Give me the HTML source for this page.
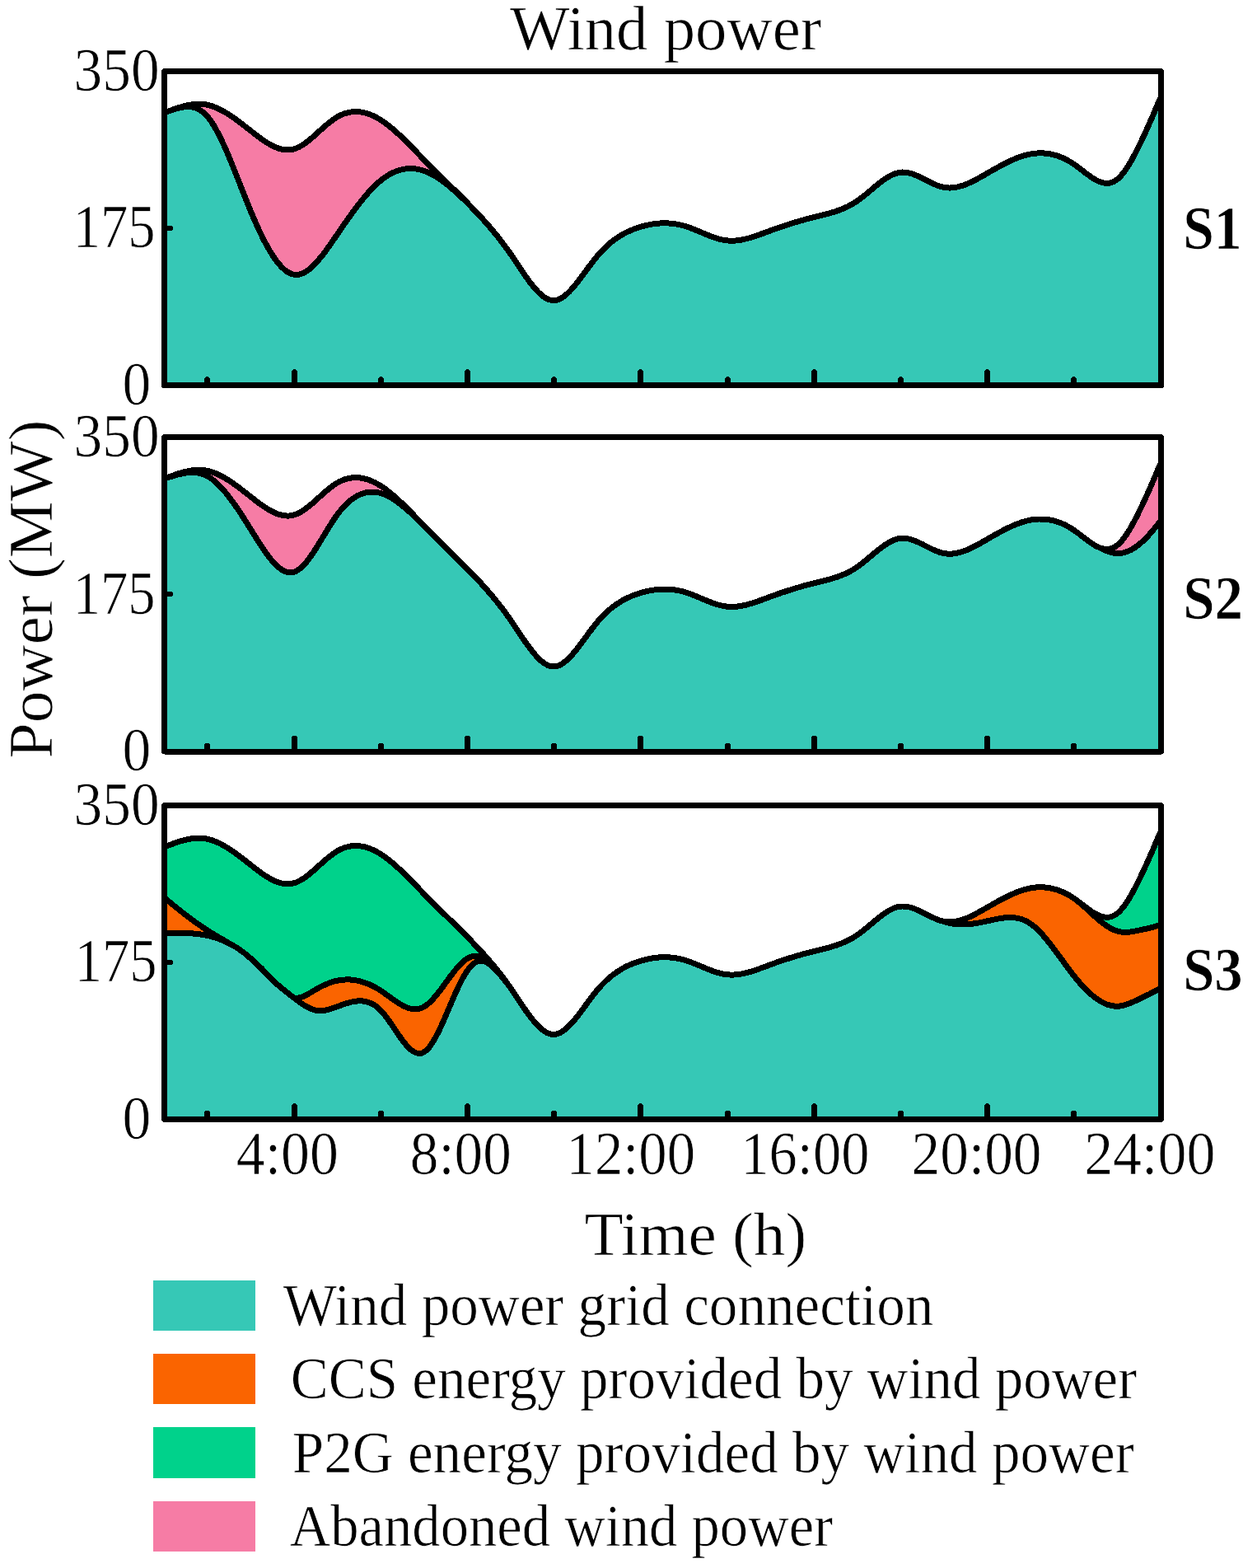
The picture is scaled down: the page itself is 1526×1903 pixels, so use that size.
<!DOCTYPE html>
<html lang="en"><head><meta charset="utf-8"><title>Wind power</title>
<style>
html,body{margin:0;padding:0;background:#fff;}
body{width:1526px;height:1903px;overflow:hidden;font-family:"Liberation Serif",serif;}
svg{display:block;}
</style></head><body>
<svg width="1526" height="1903" viewBox="0 0 1526 1903" font-family="'Liberation Serif', serif" fill="#000">
<style>path,rect,line{shape-rendering:crispEdges}path.aa{shape-rendering:auto}text{stroke:#fff;stroke-width:0.7px;paint-order:fill stroke;stroke-linejoin:round}</style>
<rect width="1526" height="1903" fill="#fff"/>
<path d="M199.5,137.0L201.5,136.2L203.5,135.4L205.5,134.7L207.5,133.9L209.5,133.2L211.5,132.5L213.5,131.8L215.5,131.1L217.5,130.5L219.5,129.9L221.5,129.3L223.5,128.7L225.5,128.3L227.5,127.8L229.5,127.4L231.5,127.1L233.5,126.8L235.5,126.5L237.5,126.4L239.5,126.3L241.5,126.2L243.5,126.3L245.5,126.4L247.5,126.6L249.5,126.8L251.5,127.2L253.5,127.7L255.5,128.2L257.5,128.8L259.5,129.5L261.5,130.3L263.5,131.2L265.5,132.1L267.5,133.1L269.5,134.1L271.5,135.2L273.5,136.4L275.5,137.6L277.5,138.9L279.5,140.2L281.5,141.5L283.5,142.9L285.5,144.3L287.5,145.8L289.5,147.3L291.5,148.8L293.5,150.3L295.5,151.8L297.5,153.4L299.5,154.9L301.5,156.5L303.5,158.1L305.5,159.6L307.5,161.2L309.5,162.8L311.5,164.3L313.5,165.8L315.5,167.3L317.5,168.7L319.5,170.1L321.5,171.5L323.5,172.8L325.5,174.0L327.5,175.2L329.5,176.3L331.5,177.3L333.5,178.2L335.5,179.1L337.5,179.8L339.5,180.5L341.5,181.0L343.5,181.4L345.5,181.7L347.5,181.9L349.5,181.9L351.5,181.8L353.5,181.6L355.5,181.2L357.5,180.6L359.5,179.9L361.5,179.1L363.5,178.1L365.5,177.0L367.5,175.8L369.5,174.4L371.5,173.0L373.5,171.5L375.5,169.9L377.5,168.3L379.5,166.6L381.5,164.8L383.5,163.0L385.5,161.2L387.5,159.4L389.5,157.6L391.5,155.9L393.5,154.1L395.5,152.3L397.5,150.6L399.5,149.0L401.5,147.4L403.5,145.9L405.5,144.5L407.5,143.1L409.5,141.9L411.5,140.8L413.5,139.8L415.5,138.9L417.5,138.1L419.5,137.5L421.5,136.9L423.5,136.4L425.5,136.1L427.5,135.8L429.5,135.6L431.5,135.6L433.5,135.6L435.5,135.7L437.5,135.9L439.5,136.3L441.5,136.7L443.5,137.1L445.5,137.7L447.5,138.4L449.5,139.1L451.5,139.9L453.5,140.8L455.5,141.8L457.5,142.9L459.5,144.0L461.5,145.2L463.5,146.5L465.5,147.8L467.5,149.3L469.5,150.7L471.5,152.3L473.5,153.9L475.5,155.5L477.5,157.2L479.5,158.9L481.5,160.7L483.5,162.5L485.5,164.4L487.5,166.3L489.5,168.2L491.5,170.2L493.5,172.2L495.5,174.2L497.5,176.2L499.5,178.2L501.5,180.3L503.5,182.3L505.5,184.4L507.5,186.5L509.5,188.5L511.5,190.6L513.5,192.6L515.5,194.7L517.5,196.7L519.5,198.8L521.5,200.8L523.5,202.8L525.5,204.8L527.5,206.8L529.5,208.8L531.5,210.7L533.5,212.7L535.5,214.7L537.5,216.7L539.5,218.6L541.5,220.6L543.5,222.6L545.5,224.5L547.5,226.5L549.5,228.5L551.5,230.4L553.5,232.4L555.5,234.4L557.5,236.4L559.5,238.4L561.5,240.4L563.5,242.4L565.5,244.4L567.5,246.4L569.5,248.5L571.5,250.5L573.5,252.6L575.5,254.7L577.5,256.8L579.5,258.9L581.5,261.0L583.5,263.2L585.5,265.3L587.5,267.5L589.5,269.8L591.5,272.0L593.5,274.3L595.5,276.7L597.5,279.0L599.5,281.4L601.5,283.9L603.5,286.3L605.5,288.8L607.5,291.4L609.5,294.0L611.5,296.7L613.5,299.4L615.5,302.1L617.5,304.9L619.5,307.7L621.5,310.6L623.5,313.6L625.5,316.6L627.5,319.6L629.5,322.6L631.5,325.6L633.5,328.5L635.5,331.5L637.5,334.4L639.5,337.2L641.5,340.0L643.5,342.7L645.5,345.3L647.5,347.8L649.5,350.2L651.5,352.4L653.5,354.5L655.5,356.4L657.5,358.2L659.5,359.7L661.5,361.1L663.5,362.3L665.5,363.2L667.5,363.9L669.5,364.4L671.5,364.6L673.5,364.6L675.5,364.2L677.5,363.6L679.5,362.8L681.5,361.8L683.5,360.5L685.5,359.0L687.5,357.4L689.5,355.5L691.5,353.6L693.5,351.5L695.5,349.2L697.5,346.9L699.5,344.4L701.5,341.9L703.5,339.3L705.5,336.6L707.5,333.9L709.5,331.2L711.5,328.5L713.5,325.7L715.5,323.0L717.5,320.4L719.5,317.7L721.5,315.2L723.5,312.7L725.5,310.2L727.5,307.9L729.5,305.7L731.5,303.6L733.5,301.6L735.5,299.6L737.5,297.8L739.5,296.0L741.5,294.4L743.5,292.7L745.5,291.2L747.5,289.8L749.5,288.4L751.5,287.1L753.5,285.9L755.5,284.7L757.5,283.6L759.5,282.5L761.5,281.5L763.5,280.6L765.5,279.7L767.5,278.9L769.5,278.1L771.5,277.4L773.5,276.7L775.5,276.0L777.5,275.4L779.5,274.8L781.5,274.3L783.5,273.8L785.5,273.3L787.5,272.9L789.5,272.5L791.5,272.1L793.5,271.8L795.5,271.6L797.5,271.3L799.5,271.1L801.5,271.0L803.5,270.9L805.5,270.8L807.5,270.8L809.5,270.9L811.5,271.0L813.5,271.1L815.5,271.3L817.5,271.5L819.5,271.8L821.5,272.1L823.5,272.4L825.5,272.9L827.5,273.3L829.5,273.9L831.5,274.4L833.5,275.1L835.5,275.7L837.5,276.4L839.5,277.2L841.5,278.0L843.5,278.8L845.5,279.6L847.5,280.4L849.5,281.2L851.5,282.1L853.5,282.9L855.5,283.8L857.5,284.6L859.5,285.4L861.5,286.2L863.5,286.9L865.5,287.7L867.5,288.4L869.5,289.0L871.5,289.6L873.5,290.2L875.5,290.7L877.5,291.1L879.5,291.5L881.5,291.8L883.5,292.0L885.5,292.1L887.5,292.2L889.5,292.2L891.5,292.1L893.5,292.0L895.5,291.7L897.5,291.5L899.5,291.2L901.5,290.8L903.5,290.4L905.5,289.9L907.5,289.4L909.5,288.9L911.5,288.3L913.5,287.7L915.5,287.0L917.5,286.4L919.5,285.7L921.5,285.0L923.5,284.2L925.5,283.5L927.5,282.8L929.5,282.0L931.5,281.3L933.5,280.5L935.5,279.8L937.5,279.1L939.5,278.4L941.5,277.6L943.5,276.9L945.5,276.2L947.5,275.6L949.5,274.9L951.5,274.2L953.5,273.6L955.5,272.9L957.5,272.3L959.5,271.6L961.5,271.0L963.5,270.4L965.5,269.8L967.5,269.2L969.5,268.6L971.5,268.0L973.5,267.5L975.5,266.9L977.5,266.4L979.5,265.8L981.5,265.3L983.5,264.8L985.5,264.2L987.5,263.7L989.5,263.2L991.5,262.8L993.5,262.3L995.5,261.8L997.5,261.3L999.5,260.8L1001.5,260.3L1003.5,259.8L1005.5,259.3L1007.5,258.7L1009.5,258.1L1011.5,257.5L1013.5,256.9L1015.5,256.2L1017.5,255.5L1019.5,254.8L1021.5,254.0L1023.5,253.2L1025.5,252.4L1027.5,251.4L1029.5,250.5L1031.5,249.4L1033.5,248.3L1035.5,247.2L1037.5,246.0L1039.5,244.7L1041.5,243.3L1043.5,241.9L1045.5,240.4L1047.5,238.8L1049.5,237.2L1051.5,235.6L1053.5,233.9L1055.5,232.3L1057.5,230.6L1059.5,228.9L1061.5,227.2L1063.5,225.5L1065.5,223.9L1067.5,222.3L1069.5,220.8L1071.5,219.3L1073.5,217.9L1075.5,216.5L1077.5,215.3L1079.5,214.1L1081.5,213.0L1083.5,212.0L1085.5,211.2L1087.5,210.5L1089.5,209.9L1091.5,209.4L1093.5,209.2L1095.5,209.0L1097.5,209.1L1099.5,209.2L1101.5,209.5L1103.5,209.9L1105.5,210.5L1107.5,211.1L1109.5,211.8L1111.5,212.6L1113.5,213.4L1115.5,214.3L1117.5,215.3L1119.5,216.3L1121.5,217.3L1123.5,218.3L1125.5,219.3L1127.5,220.3L1129.5,221.3L1131.5,222.3L1133.5,223.2L1135.5,224.1L1137.5,224.9L1139.5,225.6L1141.5,226.3L1143.5,226.8L1145.5,227.3L1147.5,227.6L1149.5,227.9L1151.5,228.0L1153.5,228.0L1155.5,227.9L1157.5,227.7L1159.5,227.5L1161.5,227.1L1163.5,226.7L1165.5,226.1L1167.5,225.5L1169.5,224.9L1171.5,224.2L1173.5,223.4L1175.5,222.5L1177.5,221.6L1179.5,220.7L1181.5,219.7L1183.5,218.7L1185.5,217.7L1187.5,216.6L1189.5,215.5L1191.5,214.4L1193.5,213.2L1195.5,212.1L1197.5,210.9L1199.5,209.8L1201.5,208.6L1203.5,207.5L1205.5,206.3L1207.5,205.2L1209.5,204.1L1211.5,203.0L1213.5,201.9L1215.5,200.8L1217.5,199.7L1219.5,198.7L1221.5,197.7L1223.5,196.7L1225.5,195.7L1227.5,194.8L1229.5,193.9L1231.5,193.1L1233.5,192.2L1235.5,191.5L1237.5,190.7L1239.5,190.0L1241.5,189.4L1243.5,188.8L1245.5,188.2L1247.5,187.7L1249.5,187.3L1251.5,186.9L1253.5,186.6L1255.5,186.3L1257.5,186.1L1259.5,186.0L1261.5,185.9L1263.5,185.8L1265.5,185.9L1267.5,186.0L1269.5,186.2L1271.5,186.4L1273.5,186.7L1275.5,187.0L1277.5,187.5L1279.5,187.9L1281.5,188.5L1283.5,189.1L1285.5,189.8L1287.5,190.6L1289.5,191.4L1291.5,192.3L1293.5,193.3L1295.5,194.3L1297.5,195.4L1299.5,196.6L1301.5,197.8L1303.5,199.2L1305.5,200.5L1307.5,202.0L1309.5,203.5L1311.5,205.0L1313.5,206.6L1315.5,208.1L1317.5,209.7L1319.5,211.2L1321.5,212.6L1323.5,214.1L1325.5,215.4L1327.5,216.7L1329.5,217.9L1331.5,219.0L1333.5,219.9L1335.5,220.7L1337.5,221.4L1339.5,221.9L1341.5,222.2L1343.5,222.3L1345.5,222.3L1347.5,222.0L1349.5,221.4L1351.5,220.6L1353.5,219.6L1355.5,218.3L1357.5,216.7L1359.5,214.8L1361.5,212.6L1363.5,210.2L1365.5,207.5L1367.5,204.6L1369.5,201.5L1371.5,198.3L1373.5,194.8L1375.5,191.2L1377.5,187.4L1379.5,183.6L1381.5,179.6L1383.5,175.5L1385.5,171.4L1387.5,167.2L1389.5,162.9L1391.5,158.5L1393.5,154.1L1395.5,149.6L1397.5,145.1L1399.5,140.5L1401.5,135.8L1403.5,131.1L1405.5,126.3L1407.5,121.5L1409.5,118.1L1409.5,467.5L199.5,467.5Z" fill="#f67ca5" stroke="#000" stroke-width="7" stroke-linejoin="round"/><path class="aa" d="M199.5,137.0L201.5,136.2L203.5,135.4L205.5,134.7L207.5,133.9L209.5,133.2L211.5,132.5L213.5,131.8L215.5,131.1L217.5,130.5L219.5,129.9L221.5,129.3L223.5,128.7L225.5,128.3L227.5,127.8L229.5,127.4L231.5,127.1L233.5,126.8L235.5,126.5L237.5,126.4L239.5,126.3L241.5,126.2L243.5,126.3L245.5,126.4L247.5,126.6L249.5,126.8L251.5,127.2L253.5,127.7L255.5,128.2L257.5,128.8L259.5,129.5L261.5,130.3L263.5,131.2L265.5,132.1L267.5,133.1L269.5,134.1L271.5,135.2L273.5,136.4L275.5,137.6L277.5,138.9L279.5,140.2L281.5,141.5L283.5,142.9L285.5,144.3L287.5,145.8L289.5,147.3L291.5,148.8L293.5,150.3L295.5,151.8L297.5,153.4L299.5,154.9L301.5,156.5L303.5,158.1L305.5,159.6L307.5,161.2L309.5,162.8L311.5,164.3L313.5,165.8L315.5,167.3L317.5,168.7L319.5,170.1L321.5,171.5L323.5,172.8L325.5,174.0L327.5,175.2L329.5,176.3L331.5,177.3L333.5,178.2L335.5,179.1L337.5,179.8L339.5,180.5L341.5,181.0L343.5,181.4L345.5,181.7L347.5,181.9L349.5,181.9L351.5,181.8L353.5,181.6L355.5,181.2L357.5,180.6L359.5,179.9L361.5,179.1L363.5,178.1L365.5,177.0L367.5,175.8L369.5,174.4L371.5,173.0L373.5,171.5L375.5,169.9L377.5,168.3L379.5,166.6L381.5,164.8L383.5,163.0L385.5,161.2L387.5,159.4L389.5,157.6L391.5,155.9L393.5,154.1L395.5,152.3L397.5,150.6L399.5,149.0L401.5,147.4L403.5,145.9L405.5,144.5L407.5,143.1L409.5,141.9L411.5,140.8L413.5,139.8L415.5,138.9L417.5,138.1L419.5,137.5L421.5,136.9L423.5,136.4L425.5,136.1L427.5,135.8L429.5,135.6L431.5,135.6L433.5,135.6L435.5,135.7L437.5,135.9L439.5,136.3L441.5,136.7L443.5,137.1L445.5,137.7L447.5,138.4L449.5,139.1L451.5,139.9L453.5,140.8L455.5,141.8L457.5,142.9L459.5,144.0L461.5,145.2L463.5,146.5L465.5,147.8L467.5,149.3L469.5,150.7L471.5,152.3L473.5,153.9L475.5,155.5L477.5,157.2L479.5,158.9L481.5,160.7L483.5,162.5L485.5,164.4L487.5,166.3L489.5,168.2L491.5,170.2L493.5,172.2L495.5,174.2L497.5,176.2L499.5,178.2L501.5,180.3L503.5,182.3L505.5,184.4L507.5,186.5L509.5,188.5L511.5,190.6L513.5,192.6L515.5,194.7L517.5,196.7L519.5,198.8L521.5,200.8L523.5,202.8L525.5,204.8L527.5,206.8L529.5,208.8L531.5,210.7L533.5,212.7L535.5,214.7L537.5,216.7L539.5,218.6L541.5,220.6L543.5,222.6L545.5,224.5L547.5,226.5L549.5,228.5L551.5,230.4L553.5,232.4L555.5,234.4L557.5,236.4L559.5,238.4L561.5,240.4L563.5,242.4L565.5,244.4L567.5,246.4L569.5,248.5L571.5,250.5L573.5,252.6L575.5,254.7L577.5,256.8L579.5,258.9L581.5,261.0L583.5,263.2L585.5,265.3L587.5,267.5L589.5,269.8L591.5,272.0L593.5,274.3L595.5,276.7L597.5,279.0L599.5,281.4L601.5,283.9L603.5,286.3L605.5,288.8L607.5,291.4L609.5,294.0L611.5,296.7L613.5,299.4L615.5,302.1L617.5,304.9L619.5,307.7L621.5,310.6L623.5,313.6L625.5,316.6L627.5,319.6L629.5,322.6L631.5,325.6L633.5,328.5L635.5,331.5L637.5,334.4L639.5,337.2L641.5,340.0L643.5,342.7L645.5,345.3L647.5,347.8L649.5,350.2L651.5,352.4L653.5,354.5L655.5,356.4L657.5,358.2L659.5,359.7L661.5,361.1L663.5,362.3L665.5,363.2L667.5,363.9L669.5,364.4L671.5,364.6L673.5,364.6L675.5,364.2L677.5,363.6L679.5,362.8L681.5,361.8L683.5,360.5L685.5,359.0L687.5,357.4L689.5,355.5L691.5,353.6L693.5,351.5L695.5,349.2L697.5,346.9L699.5,344.4L701.5,341.9L703.5,339.3L705.5,336.6L707.5,333.9L709.5,331.2L711.5,328.5L713.5,325.7L715.5,323.0L717.5,320.4L719.5,317.7L721.5,315.2L723.5,312.7L725.5,310.2L727.5,307.9L729.5,305.7L731.5,303.6L733.5,301.6L735.5,299.6L737.5,297.8L739.5,296.0L741.5,294.4L743.5,292.7L745.5,291.2L747.5,289.8L749.5,288.4L751.5,287.1L753.5,285.9L755.5,284.7L757.5,283.6L759.5,282.5L761.5,281.5L763.5,280.6L765.5,279.7L767.5,278.9L769.5,278.1L771.5,277.4L773.5,276.7L775.5,276.0L777.5,275.4L779.5,274.8L781.5,274.3L783.5,273.8L785.5,273.3L787.5,272.9L789.5,272.5L791.5,272.1L793.5,271.8L795.5,271.6L797.5,271.3L799.5,271.1L801.5,271.0L803.5,270.9L805.5,270.8L807.5,270.8L809.5,270.9L811.5,271.0L813.5,271.1L815.5,271.3L817.5,271.5L819.5,271.8L821.5,272.1L823.5,272.4L825.5,272.9L827.5,273.3L829.5,273.9L831.5,274.4L833.5,275.1L835.5,275.7L837.5,276.4L839.5,277.2L841.5,278.0L843.5,278.8L845.5,279.6L847.5,280.4L849.5,281.2L851.5,282.1L853.5,282.9L855.5,283.8L857.5,284.6L859.5,285.4L861.5,286.2L863.5,286.9L865.5,287.7L867.5,288.4L869.5,289.0L871.5,289.6L873.5,290.2L875.5,290.7L877.5,291.1L879.5,291.5L881.5,291.8L883.5,292.0L885.5,292.1L887.5,292.2L889.5,292.2L891.5,292.1L893.5,292.0L895.5,291.7L897.5,291.5L899.5,291.2L901.5,290.8L903.5,290.4L905.5,289.9L907.5,289.4L909.5,288.9L911.5,288.3L913.5,287.7L915.5,287.0L917.5,286.4L919.5,285.7L921.5,285.0L923.5,284.2L925.5,283.5L927.5,282.8L929.5,282.0L931.5,281.3L933.5,280.5L935.5,279.8L937.5,279.1L939.5,278.4L941.5,277.6L943.5,276.9L945.5,276.2L947.5,275.6L949.5,274.9L951.5,274.2L953.5,273.6L955.5,272.9L957.5,272.3L959.5,271.6L961.5,271.0L963.5,270.4L965.5,269.8L967.5,269.2L969.5,268.6L971.5,268.0L973.5,267.5L975.5,266.9L977.5,266.4L979.5,265.8L981.5,265.3L983.5,264.8L985.5,264.2L987.5,263.7L989.5,263.2L991.5,262.8L993.5,262.3L995.5,261.8L997.5,261.3L999.5,260.8L1001.5,260.3L1003.5,259.8L1005.5,259.3L1007.5,258.7L1009.5,258.1L1011.5,257.5L1013.5,256.9L1015.5,256.2L1017.5,255.5L1019.5,254.8L1021.5,254.0L1023.5,253.2L1025.5,252.4L1027.5,251.4L1029.5,250.5L1031.5,249.4L1033.5,248.3L1035.5,247.2L1037.5,246.0L1039.5,244.7L1041.5,243.3L1043.5,241.9L1045.5,240.4L1047.5,238.8L1049.5,237.2L1051.5,235.6L1053.5,233.9L1055.5,232.3L1057.5,230.6L1059.5,228.9L1061.5,227.2L1063.5,225.5L1065.5,223.9L1067.5,222.3L1069.5,220.8L1071.5,219.3L1073.5,217.9L1075.5,216.5L1077.5,215.3L1079.5,214.1L1081.5,213.0L1083.5,212.0L1085.5,211.2L1087.5,210.5L1089.5,209.9L1091.5,209.4L1093.5,209.2L1095.5,209.0L1097.5,209.1L1099.5,209.2L1101.5,209.5L1103.5,209.9L1105.5,210.5L1107.5,211.1L1109.5,211.8L1111.5,212.6L1113.5,213.4L1115.5,214.3L1117.5,215.3L1119.5,216.3L1121.5,217.3L1123.5,218.3L1125.5,219.3L1127.5,220.3L1129.5,221.3L1131.5,222.3L1133.5,223.2L1135.5,224.1L1137.5,224.9L1139.5,225.6L1141.5,226.3L1143.5,226.8L1145.5,227.3L1147.5,227.6L1149.5,227.9L1151.5,228.0L1153.5,228.0L1155.5,227.9L1157.5,227.7L1159.5,227.5L1161.5,227.1L1163.5,226.7L1165.5,226.1L1167.5,225.5L1169.5,224.9L1171.5,224.2L1173.5,223.4L1175.5,222.5L1177.5,221.6L1179.5,220.7L1181.5,219.7L1183.5,218.7L1185.5,217.7L1187.5,216.6L1189.5,215.5L1191.5,214.4L1193.5,213.2L1195.5,212.1L1197.5,210.9L1199.5,209.8L1201.5,208.6L1203.5,207.5L1205.5,206.3L1207.5,205.2L1209.5,204.1L1211.5,203.0L1213.5,201.9L1215.5,200.8L1217.5,199.7L1219.5,198.7L1221.5,197.7L1223.5,196.7L1225.5,195.7L1227.5,194.8L1229.5,193.9L1231.5,193.1L1233.5,192.2L1235.5,191.5L1237.5,190.7L1239.5,190.0L1241.5,189.4L1243.5,188.8L1245.5,188.2L1247.5,187.7L1249.5,187.3L1251.5,186.9L1253.5,186.6L1255.5,186.3L1257.5,186.1L1259.5,186.0L1261.5,185.9L1263.5,185.8L1265.5,185.9L1267.5,186.0L1269.5,186.2L1271.5,186.4L1273.5,186.7L1275.5,187.0L1277.5,187.5L1279.5,187.9L1281.5,188.5L1283.5,189.1L1285.5,189.8L1287.5,190.6L1289.5,191.4L1291.5,192.3L1293.5,193.3L1295.5,194.3L1297.5,195.4L1299.5,196.6L1301.5,197.8L1303.5,199.2L1305.5,200.5L1307.5,202.0L1309.5,203.5L1311.5,205.0L1313.5,206.6L1315.5,208.1L1317.5,209.7L1319.5,211.2L1321.5,212.6L1323.5,214.1L1325.5,215.4L1327.5,216.7L1329.5,217.9L1331.5,219.0L1333.5,219.9L1335.5,220.7L1337.5,221.4L1339.5,221.9L1341.5,222.2L1343.5,222.3L1345.5,222.3L1347.5,222.0L1349.5,221.4L1351.5,220.6L1353.5,219.6L1355.5,218.3L1357.5,216.7L1359.5,214.8L1361.5,212.6L1363.5,210.2L1365.5,207.5L1367.5,204.6L1369.5,201.5L1371.5,198.3L1373.5,194.8L1375.5,191.2L1377.5,187.4L1379.5,183.6L1381.5,179.6L1383.5,175.5L1385.5,171.4L1387.5,167.2L1389.5,162.9L1391.5,158.5L1393.5,154.1L1395.5,149.6L1397.5,145.1L1399.5,140.5L1401.5,135.8L1403.5,131.1L1405.5,126.3L1407.5,121.5L1409.5,118.1" fill="none" stroke="#000" stroke-width="5" stroke-linejoin="round"/>
<path d="M199.5,137.0L201.5,136.2L203.5,135.5L205.5,134.7L207.5,134.0L209.5,133.3L211.5,132.6L213.5,132.0L215.5,131.5L217.5,131.0L219.5,130.5L221.5,130.2L223.5,129.9L225.5,129.7L227.5,129.6L229.5,129.6L231.5,129.8L233.5,130.0L235.5,130.5L237.5,131.1L239.5,131.8L241.5,132.8L243.5,134.0L245.5,135.4L247.5,137.0L249.5,138.9L251.5,141.0L253.5,143.5L255.5,146.1L257.5,149.1L259.5,152.3L261.5,155.7L263.5,159.3L265.5,163.1L267.5,167.1L269.5,171.2L271.5,175.6L273.5,180.0L275.5,184.6L277.5,189.3L279.5,194.1L281.5,199.0L283.5,203.9L285.5,208.9L287.5,214.0L289.5,219.0L291.5,224.1L293.5,229.2L295.5,234.3L297.5,239.3L299.5,244.3L301.5,249.3L303.5,254.2L305.5,259.0L307.5,263.7L309.5,268.3L311.5,272.8L313.5,277.2L315.5,281.5L317.5,285.6L319.5,289.7L321.5,293.6L323.5,297.3L325.5,300.9L327.5,304.4L329.5,307.6L331.5,310.8L333.5,313.7L335.5,316.5L337.5,319.1L339.5,321.4L341.5,323.6L343.5,325.6L345.5,327.4L347.5,329.0L349.5,330.3L351.5,331.4L353.5,332.3L355.5,332.9L357.5,333.3L359.5,333.4L361.5,333.3L363.5,333.0L365.5,332.4L367.5,331.7L369.5,330.7L371.5,329.5L373.5,328.2L375.5,326.7L377.5,325.0L379.5,323.2L381.5,321.3L383.5,319.2L385.5,317.0L387.5,314.6L389.5,312.2L391.5,309.7L393.5,307.1L395.5,304.4L397.5,301.6L399.5,298.8L401.5,296.0L403.5,293.1L405.5,290.2L407.5,287.3L409.5,284.4L411.5,281.5L413.5,278.5L415.5,275.6L417.5,272.7L419.5,269.9L421.5,267.0L423.5,264.2L425.5,261.4L427.5,258.6L429.5,255.9L431.5,253.2L433.5,250.5L435.5,247.9L437.5,245.4L439.5,242.9L441.5,240.4L443.5,238.0L445.5,235.7L447.5,233.4L449.5,231.2L451.5,229.1L453.5,227.0L455.5,225.1L457.5,223.2L459.5,221.4L461.5,219.7L463.5,218.1L465.5,216.5L467.5,215.1L469.5,213.8L471.5,212.5L473.5,211.4L475.5,210.3L477.5,209.3L479.5,208.5L481.5,207.7L483.5,207.0L485.5,206.4L487.5,205.9L489.5,205.4L491.5,205.1L493.5,204.8L495.5,204.7L497.5,204.6L499.5,204.6L501.5,204.7L503.5,204.8L505.5,205.1L507.5,205.4L509.5,205.9L511.5,206.4L513.5,207.0L515.5,207.7L517.5,208.4L519.5,209.3L521.5,210.2L523.5,211.2L525.5,212.2L527.5,213.3L529.5,214.5L531.5,215.8L533.5,217.1L535.5,218.5L537.5,219.9L539.5,221.4L541.5,222.9L543.5,224.5L545.5,226.2L547.5,227.8L549.5,229.6L551.5,231.3L553.5,233.1L555.5,234.9L557.5,236.8L559.5,238.7L561.5,240.6L563.5,242.5L565.5,244.4L567.5,246.4L569.5,248.5L571.5,250.5L573.5,252.6L575.5,254.7L577.5,256.8L579.5,258.9L581.5,261.0L583.5,263.2L585.5,265.3L587.5,267.5L589.5,269.8L591.5,272.0L593.5,274.3L595.5,276.7L597.5,279.0L599.5,281.4L601.5,283.9L603.5,286.3L605.5,288.8L607.5,291.4L609.5,294.0L611.5,296.7L613.5,299.4L615.5,302.1L617.5,304.9L619.5,307.7L621.5,310.6L623.5,313.6L625.5,316.6L627.5,319.6L629.5,322.6L631.5,325.6L633.5,328.5L635.5,331.5L637.5,334.4L639.5,337.2L641.5,340.0L643.5,342.7L645.5,345.3L647.5,347.8L649.5,350.2L651.5,352.4L653.5,354.5L655.5,356.4L657.5,358.2L659.5,359.7L661.5,361.1L663.5,362.3L665.5,363.2L667.5,363.9L669.5,364.4L671.5,364.6L673.5,364.6L675.5,364.2L677.5,363.6L679.5,362.8L681.5,361.8L683.5,360.5L685.5,359.0L687.5,357.4L689.5,355.5L691.5,353.6L693.5,351.5L695.5,349.2L697.5,346.9L699.5,344.4L701.5,341.9L703.5,339.3L705.5,336.6L707.5,333.9L709.5,331.2L711.5,328.5L713.5,325.7L715.5,323.0L717.5,320.4L719.5,317.7L721.5,315.2L723.5,312.7L725.5,310.2L727.5,307.9L729.5,305.7L731.5,303.6L733.5,301.6L735.5,299.6L737.5,297.8L739.5,296.0L741.5,294.4L743.5,292.7L745.5,291.2L747.5,289.8L749.5,288.4L751.5,287.1L753.5,285.9L755.5,284.7L757.5,283.6L759.5,282.5L761.5,281.5L763.5,280.6L765.5,279.7L767.5,278.9L769.5,278.1L771.5,277.4L773.5,276.7L775.5,276.0L777.5,275.4L779.5,274.8L781.5,274.3L783.5,273.8L785.5,273.3L787.5,272.9L789.5,272.5L791.5,272.1L793.5,271.8L795.5,271.6L797.5,271.3L799.5,271.1L801.5,271.0L803.5,270.9L805.5,270.8L807.5,270.8L809.5,270.9L811.5,271.0L813.5,271.1L815.5,271.3L817.5,271.5L819.5,271.8L821.5,272.1L823.5,272.4L825.5,272.9L827.5,273.3L829.5,273.9L831.5,274.4L833.5,275.1L835.5,275.7L837.5,276.4L839.5,277.2L841.5,278.0L843.5,278.8L845.5,279.6L847.5,280.4L849.5,281.2L851.5,282.1L853.5,282.9L855.5,283.8L857.5,284.6L859.5,285.4L861.5,286.2L863.5,286.9L865.5,287.7L867.5,288.4L869.5,289.0L871.5,289.6L873.5,290.2L875.5,290.7L877.5,291.1L879.5,291.5L881.5,291.8L883.5,292.0L885.5,292.1L887.5,292.2L889.5,292.2L891.5,292.1L893.5,292.0L895.5,291.7L897.5,291.5L899.5,291.2L901.5,290.8L903.5,290.4L905.5,289.9L907.5,289.4L909.5,288.9L911.5,288.3L913.5,287.7L915.5,287.0L917.5,286.4L919.5,285.7L921.5,285.0L923.5,284.2L925.5,283.5L927.5,282.8L929.5,282.0L931.5,281.3L933.5,280.5L935.5,279.8L937.5,279.1L939.5,278.4L941.5,277.6L943.5,276.9L945.5,276.2L947.5,275.6L949.5,274.9L951.5,274.2L953.5,273.6L955.5,272.9L957.5,272.3L959.5,271.6L961.5,271.0L963.5,270.4L965.5,269.8L967.5,269.2L969.5,268.6L971.5,268.0L973.5,267.5L975.5,266.9L977.5,266.4L979.5,265.8L981.5,265.3L983.5,264.8L985.5,264.2L987.5,263.7L989.5,263.2L991.5,262.8L993.5,262.3L995.5,261.8L997.5,261.3L999.5,260.8L1001.5,260.3L1003.5,259.8L1005.5,259.3L1007.5,258.7L1009.5,258.1L1011.5,257.5L1013.5,256.9L1015.5,256.2L1017.5,255.5L1019.5,254.8L1021.5,254.0L1023.5,253.2L1025.5,252.4L1027.5,251.4L1029.5,250.5L1031.5,249.4L1033.5,248.3L1035.5,247.2L1037.5,246.0L1039.5,244.7L1041.5,243.3L1043.5,241.9L1045.5,240.4L1047.5,238.8L1049.5,237.2L1051.5,235.6L1053.5,233.9L1055.5,232.3L1057.5,230.6L1059.5,228.9L1061.5,227.2L1063.5,225.5L1065.5,223.9L1067.5,222.3L1069.5,220.8L1071.5,219.3L1073.5,217.9L1075.5,216.5L1077.5,215.3L1079.5,214.1L1081.5,213.0L1083.5,212.0L1085.5,211.2L1087.5,210.5L1089.5,209.9L1091.5,209.4L1093.5,209.2L1095.5,209.0L1097.5,209.1L1099.5,209.2L1101.5,209.5L1103.5,209.9L1105.5,210.5L1107.5,211.1L1109.5,211.8L1111.5,212.6L1113.5,213.4L1115.5,214.3L1117.5,215.3L1119.5,216.3L1121.5,217.3L1123.5,218.3L1125.5,219.3L1127.5,220.3L1129.5,221.3L1131.5,222.3L1133.5,223.2L1135.5,224.1L1137.5,224.9L1139.5,225.6L1141.5,226.3L1143.5,226.8L1145.5,227.3L1147.5,227.6L1149.5,227.9L1151.5,228.0L1153.5,228.0L1155.5,227.9L1157.5,227.7L1159.5,227.5L1161.5,227.1L1163.5,226.7L1165.5,226.1L1167.5,225.5L1169.5,224.9L1171.5,224.2L1173.5,223.4L1175.5,222.5L1177.5,221.6L1179.5,220.7L1181.5,219.7L1183.5,218.7L1185.5,217.7L1187.5,216.6L1189.5,215.5L1191.5,214.4L1193.5,213.2L1195.5,212.1L1197.5,210.9L1199.5,209.8L1201.5,208.6L1203.5,207.5L1205.5,206.3L1207.5,205.2L1209.5,204.1L1211.5,203.0L1213.5,201.9L1215.5,200.8L1217.5,199.7L1219.5,198.7L1221.5,197.7L1223.5,196.7L1225.5,195.7L1227.5,194.8L1229.5,193.9L1231.5,193.1L1233.5,192.2L1235.5,191.5L1237.5,190.7L1239.5,190.0L1241.5,189.4L1243.5,188.8L1245.5,188.2L1247.5,187.7L1249.5,187.3L1251.5,186.9L1253.5,186.6L1255.5,186.3L1257.5,186.1L1259.5,186.0L1261.5,185.9L1263.5,185.8L1265.5,185.9L1267.5,186.0L1269.5,186.2L1271.5,186.4L1273.5,186.7L1275.5,187.0L1277.5,187.5L1279.5,187.9L1281.5,188.5L1283.5,189.1L1285.5,189.8L1287.5,190.6L1289.5,191.4L1291.5,192.3L1293.5,193.3L1295.5,194.3L1297.5,195.4L1299.5,196.6L1301.5,197.8L1303.5,199.2L1305.5,200.5L1307.5,202.0L1309.5,203.5L1311.5,205.0L1313.5,206.6L1315.5,208.1L1317.5,209.7L1319.5,211.2L1321.5,212.6L1323.5,214.1L1325.5,215.4L1327.5,216.7L1329.5,217.9L1331.5,219.0L1333.5,219.9L1335.5,220.7L1337.5,221.4L1339.5,221.9L1341.5,222.2L1343.5,222.3L1345.5,222.3L1347.5,222.0L1349.5,221.4L1351.5,220.6L1353.5,219.6L1355.5,218.3L1357.5,216.7L1359.5,214.8L1361.5,212.6L1363.5,210.2L1365.5,207.5L1367.5,204.6L1369.5,201.5L1371.5,198.3L1373.5,194.8L1375.5,191.2L1377.5,187.4L1379.5,183.6L1381.5,179.6L1383.5,175.5L1385.5,171.4L1387.5,167.2L1389.5,162.9L1391.5,158.5L1393.5,154.1L1395.5,149.6L1397.5,145.1L1399.5,140.5L1401.5,135.8L1403.5,131.1L1405.5,126.3L1407.5,121.5L1409.5,118.1L1409.5,467.5L199.5,467.5Z" fill="#36c8b6" stroke="#000" stroke-width="7" stroke-linejoin="round"/><path class="aa" d="M199.5,137.0L201.5,136.2L203.5,135.5L205.5,134.7L207.5,134.0L209.5,133.3L211.5,132.6L213.5,132.0L215.5,131.5L217.5,131.0L219.5,130.5L221.5,130.2L223.5,129.9L225.5,129.7L227.5,129.6L229.5,129.6L231.5,129.8L233.5,130.0L235.5,130.5L237.5,131.1L239.5,131.8L241.5,132.8L243.5,134.0L245.5,135.4L247.5,137.0L249.5,138.9L251.5,141.0L253.5,143.5L255.5,146.1L257.5,149.1L259.5,152.3L261.5,155.7L263.5,159.3L265.5,163.1L267.5,167.1L269.5,171.2L271.5,175.6L273.5,180.0L275.5,184.6L277.5,189.3L279.5,194.1L281.5,199.0L283.5,203.9L285.5,208.9L287.5,214.0L289.5,219.0L291.5,224.1L293.5,229.2L295.5,234.3L297.5,239.3L299.5,244.3L301.5,249.3L303.5,254.2L305.5,259.0L307.5,263.7L309.5,268.3L311.5,272.8L313.5,277.2L315.5,281.5L317.5,285.6L319.5,289.7L321.5,293.6L323.5,297.3L325.5,300.9L327.5,304.4L329.5,307.6L331.5,310.8L333.5,313.7L335.5,316.5L337.5,319.1L339.5,321.4L341.5,323.6L343.5,325.6L345.5,327.4L347.5,329.0L349.5,330.3L351.5,331.4L353.5,332.3L355.5,332.9L357.5,333.3L359.5,333.4L361.5,333.3L363.5,333.0L365.5,332.4L367.5,331.7L369.5,330.7L371.5,329.5L373.5,328.2L375.5,326.7L377.5,325.0L379.5,323.2L381.5,321.3L383.5,319.2L385.5,317.0L387.5,314.6L389.5,312.2L391.5,309.7L393.5,307.1L395.5,304.4L397.5,301.6L399.5,298.8L401.5,296.0L403.5,293.1L405.5,290.2L407.5,287.3L409.5,284.4L411.5,281.5L413.5,278.5L415.5,275.6L417.5,272.7L419.5,269.9L421.5,267.0L423.5,264.2L425.5,261.4L427.5,258.6L429.5,255.9L431.5,253.2L433.5,250.5L435.5,247.9L437.5,245.4L439.5,242.9L441.5,240.4L443.5,238.0L445.5,235.7L447.5,233.4L449.5,231.2L451.5,229.1L453.5,227.0L455.5,225.1L457.5,223.2L459.5,221.4L461.5,219.7L463.5,218.1L465.5,216.5L467.5,215.1L469.5,213.8L471.5,212.5L473.5,211.4L475.5,210.3L477.5,209.3L479.5,208.5L481.5,207.7L483.5,207.0L485.5,206.4L487.5,205.9L489.5,205.4L491.5,205.1L493.5,204.8L495.5,204.7L497.5,204.6L499.5,204.6L501.5,204.7L503.5,204.8L505.5,205.1L507.5,205.4L509.5,205.9L511.5,206.4L513.5,207.0L515.5,207.7L517.5,208.4L519.5,209.3L521.5,210.2L523.5,211.2L525.5,212.2L527.5,213.3L529.5,214.5L531.5,215.8L533.5,217.1L535.5,218.5L537.5,219.9L539.5,221.4L541.5,222.9L543.5,224.5L545.5,226.2L547.5,227.8L549.5,229.6L551.5,231.3L553.5,233.1L555.5,234.9L557.5,236.8L559.5,238.7L561.5,240.6L563.5,242.5L565.5,244.4L567.5,246.4L569.5,248.5L571.5,250.5L573.5,252.6L575.5,254.7L577.5,256.8L579.5,258.9L581.5,261.0L583.5,263.2L585.5,265.3L587.5,267.5L589.5,269.8L591.5,272.0L593.5,274.3L595.5,276.7L597.5,279.0L599.5,281.4L601.5,283.9L603.5,286.3L605.5,288.8L607.5,291.4L609.5,294.0L611.5,296.7L613.5,299.4L615.5,302.1L617.5,304.9L619.5,307.7L621.5,310.6L623.5,313.6L625.5,316.6L627.5,319.6L629.5,322.6L631.5,325.6L633.5,328.5L635.5,331.5L637.5,334.4L639.5,337.2L641.5,340.0L643.5,342.7L645.5,345.3L647.5,347.8L649.5,350.2L651.5,352.4L653.5,354.5L655.5,356.4L657.5,358.2L659.5,359.7L661.5,361.1L663.5,362.3L665.5,363.2L667.5,363.9L669.5,364.4L671.5,364.6L673.5,364.6L675.5,364.2L677.5,363.6L679.5,362.8L681.5,361.8L683.5,360.5L685.5,359.0L687.5,357.4L689.5,355.5L691.5,353.6L693.5,351.5L695.5,349.2L697.5,346.9L699.5,344.4L701.5,341.9L703.5,339.3L705.5,336.6L707.5,333.9L709.5,331.2L711.5,328.5L713.5,325.7L715.5,323.0L717.5,320.4L719.5,317.7L721.5,315.2L723.5,312.7L725.5,310.2L727.5,307.9L729.5,305.7L731.5,303.6L733.5,301.6L735.5,299.6L737.5,297.8L739.5,296.0L741.5,294.4L743.5,292.7L745.5,291.2L747.5,289.8L749.5,288.4L751.5,287.1L753.5,285.9L755.5,284.7L757.5,283.6L759.5,282.5L761.5,281.5L763.5,280.6L765.5,279.7L767.5,278.9L769.5,278.1L771.5,277.4L773.5,276.7L775.5,276.0L777.5,275.4L779.5,274.8L781.5,274.3L783.5,273.8L785.5,273.3L787.5,272.9L789.5,272.5L791.5,272.1L793.5,271.8L795.5,271.6L797.5,271.3L799.5,271.1L801.5,271.0L803.5,270.9L805.5,270.8L807.5,270.8L809.5,270.9L811.5,271.0L813.5,271.1L815.5,271.3L817.5,271.5L819.5,271.8L821.5,272.1L823.5,272.4L825.5,272.9L827.5,273.3L829.5,273.9L831.5,274.4L833.5,275.1L835.5,275.7L837.5,276.4L839.5,277.2L841.5,278.0L843.5,278.8L845.5,279.6L847.5,280.4L849.5,281.2L851.5,282.1L853.5,282.9L855.5,283.8L857.5,284.6L859.5,285.4L861.5,286.2L863.5,286.9L865.5,287.7L867.5,288.4L869.5,289.0L871.5,289.6L873.5,290.2L875.5,290.7L877.5,291.1L879.5,291.5L881.5,291.8L883.5,292.0L885.5,292.1L887.5,292.2L889.5,292.2L891.5,292.1L893.5,292.0L895.5,291.7L897.5,291.5L899.5,291.2L901.5,290.8L903.5,290.4L905.5,289.9L907.5,289.4L909.5,288.9L911.5,288.3L913.5,287.7L915.5,287.0L917.5,286.4L919.5,285.7L921.5,285.0L923.5,284.2L925.5,283.5L927.5,282.8L929.5,282.0L931.5,281.3L933.5,280.5L935.5,279.8L937.5,279.1L939.5,278.4L941.5,277.6L943.5,276.9L945.5,276.2L947.5,275.6L949.5,274.9L951.5,274.2L953.5,273.6L955.5,272.9L957.5,272.3L959.5,271.6L961.5,271.0L963.5,270.4L965.5,269.8L967.5,269.2L969.5,268.6L971.5,268.0L973.5,267.5L975.5,266.9L977.5,266.4L979.5,265.8L981.5,265.3L983.5,264.8L985.5,264.2L987.5,263.7L989.5,263.2L991.5,262.8L993.5,262.3L995.5,261.8L997.5,261.3L999.5,260.8L1001.5,260.3L1003.5,259.8L1005.5,259.3L1007.5,258.7L1009.5,258.1L1011.5,257.5L1013.5,256.9L1015.5,256.2L1017.5,255.5L1019.5,254.8L1021.5,254.0L1023.5,253.2L1025.5,252.4L1027.5,251.4L1029.5,250.5L1031.5,249.4L1033.5,248.3L1035.5,247.2L1037.5,246.0L1039.5,244.7L1041.5,243.3L1043.5,241.9L1045.5,240.4L1047.5,238.8L1049.5,237.2L1051.5,235.6L1053.5,233.9L1055.5,232.3L1057.5,230.6L1059.5,228.9L1061.5,227.2L1063.5,225.5L1065.5,223.9L1067.5,222.3L1069.5,220.8L1071.5,219.3L1073.5,217.9L1075.5,216.5L1077.5,215.3L1079.5,214.1L1081.5,213.0L1083.5,212.0L1085.5,211.2L1087.5,210.5L1089.5,209.9L1091.5,209.4L1093.5,209.2L1095.5,209.0L1097.5,209.1L1099.5,209.2L1101.5,209.5L1103.5,209.9L1105.5,210.5L1107.5,211.1L1109.5,211.8L1111.5,212.6L1113.5,213.4L1115.5,214.3L1117.5,215.3L1119.5,216.3L1121.5,217.3L1123.5,218.3L1125.5,219.3L1127.5,220.3L1129.5,221.3L1131.5,222.3L1133.5,223.2L1135.5,224.1L1137.5,224.9L1139.5,225.6L1141.5,226.3L1143.5,226.8L1145.5,227.3L1147.5,227.6L1149.5,227.9L1151.5,228.0L1153.5,228.0L1155.5,227.9L1157.5,227.7L1159.5,227.5L1161.5,227.1L1163.5,226.7L1165.5,226.1L1167.5,225.5L1169.5,224.9L1171.5,224.2L1173.5,223.4L1175.5,222.5L1177.5,221.6L1179.5,220.7L1181.5,219.7L1183.5,218.7L1185.5,217.7L1187.5,216.6L1189.5,215.5L1191.5,214.4L1193.5,213.2L1195.5,212.1L1197.5,210.9L1199.5,209.8L1201.5,208.6L1203.5,207.5L1205.5,206.3L1207.5,205.2L1209.5,204.1L1211.5,203.0L1213.5,201.9L1215.5,200.8L1217.5,199.7L1219.5,198.7L1221.5,197.7L1223.5,196.7L1225.5,195.7L1227.5,194.8L1229.5,193.9L1231.5,193.1L1233.5,192.2L1235.5,191.5L1237.5,190.7L1239.5,190.0L1241.5,189.4L1243.5,188.8L1245.5,188.2L1247.5,187.7L1249.5,187.3L1251.5,186.9L1253.5,186.6L1255.5,186.3L1257.5,186.1L1259.5,186.0L1261.5,185.9L1263.5,185.8L1265.5,185.9L1267.5,186.0L1269.5,186.2L1271.5,186.4L1273.5,186.7L1275.5,187.0L1277.5,187.5L1279.5,187.9L1281.5,188.5L1283.5,189.1L1285.5,189.8L1287.5,190.6L1289.5,191.4L1291.5,192.3L1293.5,193.3L1295.5,194.3L1297.5,195.4L1299.5,196.6L1301.5,197.8L1303.5,199.2L1305.5,200.5L1307.5,202.0L1309.5,203.5L1311.5,205.0L1313.5,206.6L1315.5,208.1L1317.5,209.7L1319.5,211.2L1321.5,212.6L1323.5,214.1L1325.5,215.4L1327.5,216.7L1329.5,217.9L1331.5,219.0L1333.5,219.9L1335.5,220.7L1337.5,221.4L1339.5,221.9L1341.5,222.2L1343.5,222.3L1345.5,222.3L1347.5,222.0L1349.5,221.4L1351.5,220.6L1353.5,219.6L1355.5,218.3L1357.5,216.7L1359.5,214.8L1361.5,212.6L1363.5,210.2L1365.5,207.5L1367.5,204.6L1369.5,201.5L1371.5,198.3L1373.5,194.8L1375.5,191.2L1377.5,187.4L1379.5,183.6L1381.5,179.6L1383.5,175.5L1385.5,171.4L1387.5,167.2L1389.5,162.9L1391.5,158.5L1393.5,154.1L1395.5,149.6L1397.5,145.1L1399.5,140.5L1401.5,135.8L1403.5,131.1L1405.5,126.3L1407.5,121.5L1409.5,118.1" fill="none" stroke="#000" stroke-width="5" stroke-linejoin="round"/>
<rect x="199.5" y="86.5" width="1210.0" height="381.0" fill="none" stroke="#000" stroke-width="7" stroke-linejoin="round"/>
<line x1="251.5" y1="467.5" x2="251.5" y2="460.6" stroke="#000" stroke-width="7" stroke-linecap="round"/>
<line x1="357.5" y1="467.5" x2="357.5" y2="451.8" stroke="#000" stroke-width="7" stroke-linecap="round"/>
<line x1="462.5" y1="467.5" x2="462.5" y2="460.6" stroke="#000" stroke-width="7" stroke-linecap="round"/>
<line x1="567.5" y1="467.5" x2="567.5" y2="451.8" stroke="#000" stroke-width="7" stroke-linecap="round"/>
<line x1="672.5" y1="467.5" x2="672.5" y2="460.6" stroke="#000" stroke-width="7" stroke-linecap="round"/>
<line x1="777.5" y1="467.5" x2="777.5" y2="451.8" stroke="#000" stroke-width="7" stroke-linecap="round"/>
<line x1="883.5" y1="467.5" x2="883.5" y2="460.6" stroke="#000" stroke-width="7" stroke-linecap="round"/>
<line x1="988.5" y1="467.5" x2="988.5" y2="451.8" stroke="#000" stroke-width="7" stroke-linecap="round"/>
<line x1="1093.5" y1="467.5" x2="1093.5" y2="460.6" stroke="#000" stroke-width="7" stroke-linecap="round"/>
<line x1="1198.5" y1="467.5" x2="1198.5" y2="451.8" stroke="#000" stroke-width="7" stroke-linecap="round"/>
<line x1="1303.5" y1="467.5" x2="1303.5" y2="460.6" stroke="#000" stroke-width="7" stroke-linecap="round"/>
<line x1="199.5" y1="277.0" x2="206.8" y2="277.0" stroke="#000" stroke-width="6.4" stroke-linecap="round"/>
<path d="M199.5,581.1L201.5,580.3L203.5,579.5L205.5,578.8L207.5,578.0L209.5,577.3L211.5,576.5L213.5,575.8L215.5,575.2L217.5,574.5L219.5,573.9L221.5,573.3L223.5,572.8L225.5,572.3L227.5,571.9L229.5,571.5L231.5,571.1L233.5,570.8L235.5,570.6L237.5,570.4L239.5,570.3L241.5,570.3L243.5,570.3L245.5,570.4L247.5,570.6L249.5,570.9L251.5,571.3L253.5,571.7L255.5,572.3L257.5,572.9L259.5,573.6L261.5,574.4L263.5,575.2L265.5,576.1L267.5,577.1L269.5,578.2L271.5,579.3L273.5,580.5L275.5,581.7L277.5,582.9L279.5,584.2L281.5,585.6L283.5,587.0L285.5,588.4L287.5,589.9L289.5,591.3L291.5,592.8L293.5,594.4L295.5,595.9L297.5,597.5L299.5,599.0L301.5,600.6L303.5,602.2L305.5,603.7L307.5,605.3L309.5,606.9L311.5,608.4L313.5,609.9L315.5,611.4L317.5,612.8L319.5,614.2L321.5,615.6L323.5,616.9L325.5,618.1L327.5,619.3L329.5,620.4L331.5,621.4L333.5,622.3L335.5,623.2L337.5,623.9L339.5,624.6L341.5,625.1L343.5,625.5L345.5,625.8L347.5,626.0L349.5,626.1L351.5,626.0L353.5,625.7L355.5,625.3L357.5,624.8L359.5,624.1L361.5,623.2L363.5,622.2L365.5,621.1L367.5,619.9L369.5,618.5L371.5,617.1L373.5,615.6L375.5,614.0L377.5,612.4L379.5,610.7L381.5,608.9L383.5,607.1L385.5,605.3L387.5,603.5L389.5,601.7L391.5,599.9L393.5,598.2L395.5,596.4L397.5,594.7L399.5,593.1L401.5,591.5L403.5,590.0L405.5,588.6L407.5,587.2L409.5,586.0L411.5,584.9L413.5,583.9L415.5,583.0L417.5,582.2L419.5,581.5L421.5,581.0L423.5,580.5L425.5,580.1L427.5,579.9L429.5,579.7L431.5,579.6L433.5,579.7L435.5,579.8L437.5,580.0L439.5,580.3L441.5,580.7L443.5,581.2L445.5,581.8L447.5,582.4L449.5,583.2L451.5,584.0L453.5,584.9L455.5,585.9L457.5,587.0L459.5,588.1L461.5,589.3L463.5,590.6L465.5,591.9L467.5,593.3L469.5,594.8L471.5,596.4L473.5,597.9L475.5,599.6L477.5,601.3L479.5,603.0L481.5,604.8L483.5,606.6L485.5,608.5L487.5,610.4L489.5,612.3L491.5,614.3L493.5,616.3L495.5,618.3L497.5,620.3L499.5,622.3L501.5,624.4L503.5,626.5L505.5,628.5L507.5,630.6L509.5,632.7L511.5,634.7L513.5,636.8L515.5,638.8L517.5,640.9L519.5,642.9L521.5,644.9L523.5,646.9L525.5,648.9L527.5,650.9L529.5,652.9L531.5,654.9L533.5,656.9L535.5,658.9L537.5,660.8L539.5,662.8L541.5,664.8L543.5,666.7L545.5,668.7L547.5,670.7L549.5,672.7L551.5,674.6L553.5,676.6L555.5,678.6L557.5,680.6L559.5,682.6L561.5,684.6L563.5,686.6L565.5,688.6L567.5,690.6L569.5,692.7L571.5,694.7L573.5,696.8L575.5,698.9L577.5,701.0L579.5,703.1L581.5,705.2L583.5,707.4L585.5,709.6L587.5,711.8L589.5,714.0L591.5,716.3L593.5,718.6L595.5,720.9L597.5,723.3L599.5,725.7L601.5,728.1L603.5,730.6L605.5,733.1L607.5,735.7L609.5,738.3L611.5,740.9L613.5,743.6L615.5,746.4L617.5,749.2L619.5,752.0L621.5,754.9L623.5,757.9L625.5,760.9L627.5,763.9L629.5,766.9L631.5,769.9L633.5,772.9L635.5,775.8L637.5,778.7L639.5,781.6L641.5,784.3L643.5,787.0L645.5,789.6L647.5,792.1L649.5,794.5L651.5,796.7L653.5,798.8L655.5,800.8L657.5,802.5L659.5,804.1L661.5,805.5L663.5,806.6L665.5,807.6L667.5,808.3L669.5,808.8L671.5,809.0L673.5,808.9L675.5,808.6L677.5,808.0L679.5,807.2L681.5,806.1L683.5,804.8L685.5,803.4L687.5,801.7L689.5,799.9L691.5,797.9L693.5,795.8L695.5,793.6L697.5,791.2L699.5,788.8L701.5,786.2L703.5,783.6L705.5,781.0L707.5,778.3L709.5,775.5L711.5,772.8L713.5,770.1L715.5,767.3L717.5,764.7L719.5,762.0L721.5,759.5L723.5,757.0L725.5,754.5L727.5,752.2L729.5,750.0L731.5,747.9L733.5,745.9L735.5,743.9L737.5,742.1L739.5,740.3L741.5,738.6L743.5,737.0L745.5,735.5L747.5,734.0L749.5,732.7L751.5,731.4L753.5,730.1L755.5,728.9L757.5,727.8L759.5,726.8L761.5,725.8L763.5,724.9L765.5,724.0L767.5,723.1L769.5,722.3L771.5,721.6L773.5,720.9L775.5,720.3L777.5,719.6L779.5,719.1L781.5,718.5L783.5,718.0L785.5,717.5L787.5,717.1L789.5,716.7L791.5,716.4L793.5,716.1L795.5,715.8L797.5,715.6L799.5,715.4L801.5,715.2L803.5,715.1L805.5,715.1L807.5,715.1L809.5,715.1L811.5,715.2L813.5,715.3L815.5,715.5L817.5,715.7L819.5,716.0L821.5,716.3L823.5,716.7L825.5,717.1L827.5,717.6L829.5,718.1L831.5,718.7L833.5,719.3L835.5,720.0L837.5,720.7L839.5,721.4L841.5,722.2L843.5,723.0L845.5,723.8L847.5,724.7L849.5,725.5L851.5,726.3L853.5,727.2L855.5,728.0L857.5,728.8L859.5,729.7L861.5,730.4L863.5,731.2L865.5,731.9L867.5,732.6L869.5,733.3L871.5,733.9L873.5,734.4L875.5,734.9L877.5,735.4L879.5,735.7L881.5,736.0L883.5,736.2L885.5,736.4L887.5,736.5L889.5,736.4L891.5,736.4L893.5,736.2L895.5,736.0L897.5,735.8L899.5,735.4L901.5,735.1L903.5,734.6L905.5,734.2L907.5,733.7L909.5,733.1L911.5,732.5L913.5,731.9L915.5,731.3L917.5,730.6L919.5,729.9L921.5,729.2L923.5,728.5L925.5,727.8L927.5,727.0L929.5,726.3L931.5,725.5L933.5,724.8L935.5,724.1L937.5,723.3L939.5,722.6L941.5,721.9L943.5,721.2L945.5,720.5L947.5,719.8L949.5,719.1L951.5,718.5L953.5,717.8L955.5,717.2L957.5,716.5L959.5,715.9L961.5,715.3L963.5,714.6L965.5,714.0L967.5,713.4L969.5,712.9L971.5,712.3L973.5,711.7L975.5,711.1L977.5,710.6L979.5,710.1L981.5,709.5L983.5,709.0L985.5,708.5L987.5,708.0L989.5,707.5L991.5,707.0L993.5,706.5L995.5,706.0L997.5,705.5L999.5,705.0L1001.5,704.5L1003.5,704.0L1005.5,703.5L1007.5,702.9L1009.5,702.4L1011.5,701.8L1013.5,701.1L1015.5,700.5L1017.5,699.8L1019.5,699.0L1021.5,698.3L1023.5,697.4L1025.5,696.6L1027.5,695.7L1029.5,694.7L1031.5,693.7L1033.5,692.6L1035.5,691.4L1037.5,690.2L1039.5,688.9L1041.5,687.5L1043.5,686.1L1045.5,684.6L1047.5,683.0L1049.5,681.4L1051.5,679.8L1053.5,678.1L1055.5,676.4L1057.5,674.8L1059.5,673.1L1061.5,671.4L1063.5,669.7L1065.5,668.1L1067.5,666.5L1069.5,665.0L1071.5,663.5L1073.5,662.0L1075.5,660.7L1077.5,659.4L1079.5,658.2L1081.5,657.2L1083.5,656.2L1085.5,655.3L1087.5,654.6L1089.5,654.0L1091.5,653.6L1093.5,653.3L1095.5,653.2L1097.5,653.2L1099.5,653.4L1101.5,653.7L1103.5,654.1L1105.5,654.6L1107.5,655.2L1109.5,656.0L1111.5,656.7L1113.5,657.6L1115.5,658.5L1117.5,659.5L1119.5,660.4L1121.5,661.4L1123.5,662.5L1125.5,663.5L1127.5,664.5L1129.5,665.5L1131.5,666.5L1133.5,667.4L1135.5,668.3L1137.5,669.1L1139.5,669.8L1141.5,670.5L1143.5,671.0L1145.5,671.5L1147.5,671.8L1149.5,672.0L1151.5,672.2L1153.5,672.2L1155.5,672.1L1157.5,671.9L1159.5,671.6L1161.5,671.3L1163.5,670.8L1165.5,670.3L1167.5,669.7L1169.5,669.1L1171.5,668.3L1173.5,667.6L1175.5,666.7L1177.5,665.8L1179.5,664.9L1181.5,663.9L1183.5,662.9L1185.5,661.8L1187.5,660.8L1189.5,659.7L1191.5,658.5L1193.5,657.4L1195.5,656.3L1197.5,655.1L1199.5,653.9L1201.5,652.8L1203.5,651.6L1205.5,650.5L1207.5,649.4L1209.5,648.2L1211.5,647.1L1213.5,646.0L1215.5,645.0L1217.5,643.9L1219.5,642.9L1221.5,641.8L1223.5,640.9L1225.5,639.9L1227.5,639.0L1229.5,638.1L1231.5,637.2L1233.5,636.4L1235.5,635.6L1237.5,634.9L1239.5,634.2L1241.5,633.5L1243.5,632.9L1245.5,632.4L1247.5,631.9L1249.5,631.4L1251.5,631.0L1253.5,630.7L1255.5,630.4L1257.5,630.2L1259.5,630.1L1261.5,630.0L1263.5,630.0L1265.5,630.0L1267.5,630.1L1269.5,630.3L1271.5,630.5L1273.5,630.8L1275.5,631.2L1277.5,631.6L1279.5,632.1L1281.5,632.6L1283.5,633.3L1285.5,634.0L1287.5,634.7L1289.5,635.5L1291.5,636.4L1293.5,637.4L1295.5,638.4L1297.5,639.5L1299.5,640.7L1301.5,642.0L1303.5,643.3L1305.5,644.7L1307.5,646.1L1309.5,647.6L1311.5,649.2L1313.5,650.7L1315.5,652.3L1317.5,653.8L1319.5,655.3L1321.5,656.8L1323.5,658.2L1325.5,659.6L1327.5,660.9L1329.5,662.1L1331.5,663.1L1333.5,664.1L1335.5,664.9L1337.5,665.6L1339.5,666.1L1341.5,666.4L1343.5,666.5L1345.5,666.4L1347.5,666.1L1349.5,665.6L1351.5,664.8L1353.5,663.8L1355.5,662.4L1357.5,660.8L1359.5,658.9L1361.5,656.8L1363.5,654.3L1365.5,651.7L1367.5,648.8L1369.5,645.7L1371.5,642.4L1373.5,638.9L1375.5,635.3L1377.5,631.6L1379.5,627.7L1381.5,623.7L1383.5,619.6L1385.5,615.5L1387.5,611.3L1389.5,607.0L1391.5,602.6L1393.5,598.2L1395.5,593.7L1397.5,589.2L1399.5,584.6L1401.5,579.9L1403.5,575.2L1405.5,570.4L1407.5,565.5L1409.5,562.1L1409.5,912.0L199.5,912.0Z" fill="#f67ca5" stroke="#000" stroke-width="7" stroke-linejoin="round"/><path class="aa" d="M199.5,581.1L201.5,580.3L203.5,579.5L205.5,578.8L207.5,578.0L209.5,577.3L211.5,576.5L213.5,575.8L215.5,575.2L217.5,574.5L219.5,573.9L221.5,573.3L223.5,572.8L225.5,572.3L227.5,571.9L229.5,571.5L231.5,571.1L233.5,570.8L235.5,570.6L237.5,570.4L239.5,570.3L241.5,570.3L243.5,570.3L245.5,570.4L247.5,570.6L249.5,570.9L251.5,571.3L253.5,571.7L255.5,572.3L257.5,572.9L259.5,573.6L261.5,574.4L263.5,575.2L265.5,576.1L267.5,577.1L269.5,578.2L271.5,579.3L273.5,580.5L275.5,581.7L277.5,582.9L279.5,584.2L281.5,585.6L283.5,587.0L285.5,588.4L287.5,589.9L289.5,591.3L291.5,592.8L293.5,594.4L295.5,595.9L297.5,597.5L299.5,599.0L301.5,600.6L303.5,602.2L305.5,603.7L307.5,605.3L309.5,606.9L311.5,608.4L313.5,609.9L315.5,611.4L317.5,612.8L319.5,614.2L321.5,615.6L323.5,616.9L325.5,618.1L327.5,619.3L329.5,620.4L331.5,621.4L333.5,622.3L335.5,623.2L337.5,623.9L339.5,624.6L341.5,625.1L343.5,625.5L345.5,625.8L347.5,626.0L349.5,626.1L351.5,626.0L353.5,625.7L355.5,625.3L357.5,624.8L359.5,624.1L361.5,623.2L363.5,622.2L365.5,621.1L367.5,619.9L369.5,618.5L371.5,617.1L373.5,615.6L375.5,614.0L377.5,612.4L379.5,610.7L381.5,608.9L383.5,607.1L385.5,605.3L387.5,603.5L389.5,601.7L391.5,599.9L393.5,598.2L395.5,596.4L397.5,594.7L399.5,593.1L401.5,591.5L403.5,590.0L405.5,588.6L407.5,587.2L409.5,586.0L411.5,584.9L413.5,583.9L415.5,583.0L417.5,582.2L419.5,581.5L421.5,581.0L423.5,580.5L425.5,580.1L427.5,579.9L429.5,579.7L431.5,579.6L433.5,579.7L435.5,579.8L437.5,580.0L439.5,580.3L441.5,580.7L443.5,581.2L445.5,581.8L447.5,582.4L449.5,583.2L451.5,584.0L453.5,584.9L455.5,585.9L457.5,587.0L459.5,588.1L461.5,589.3L463.5,590.6L465.5,591.9L467.5,593.3L469.5,594.8L471.5,596.4L473.5,597.9L475.5,599.6L477.5,601.3L479.5,603.0L481.5,604.8L483.5,606.6L485.5,608.5L487.5,610.4L489.5,612.3L491.5,614.3L493.5,616.3L495.5,618.3L497.5,620.3L499.5,622.3L501.5,624.4L503.5,626.5L505.5,628.5L507.5,630.6L509.5,632.7L511.5,634.7L513.5,636.8L515.5,638.8L517.5,640.9L519.5,642.9L521.5,644.9L523.5,646.9L525.5,648.9L527.5,650.9L529.5,652.9L531.5,654.9L533.5,656.9L535.5,658.9L537.5,660.8L539.5,662.8L541.5,664.8L543.5,666.7L545.5,668.7L547.5,670.7L549.5,672.7L551.5,674.6L553.5,676.6L555.5,678.6L557.5,680.6L559.5,682.6L561.5,684.6L563.5,686.6L565.5,688.6L567.5,690.6L569.5,692.7L571.5,694.7L573.5,696.8L575.5,698.9L577.5,701.0L579.5,703.1L581.5,705.2L583.5,707.4L585.5,709.6L587.5,711.8L589.5,714.0L591.5,716.3L593.5,718.6L595.5,720.9L597.5,723.3L599.5,725.7L601.5,728.1L603.5,730.6L605.5,733.1L607.5,735.7L609.5,738.3L611.5,740.9L613.5,743.6L615.5,746.4L617.5,749.2L619.5,752.0L621.5,754.9L623.5,757.9L625.5,760.9L627.5,763.9L629.5,766.9L631.5,769.9L633.5,772.9L635.5,775.8L637.5,778.7L639.5,781.6L641.5,784.3L643.5,787.0L645.5,789.6L647.5,792.1L649.5,794.5L651.5,796.7L653.5,798.8L655.5,800.8L657.5,802.5L659.5,804.1L661.5,805.5L663.5,806.6L665.5,807.6L667.5,808.3L669.5,808.8L671.5,809.0L673.5,808.9L675.5,808.6L677.5,808.0L679.5,807.2L681.5,806.1L683.5,804.8L685.5,803.4L687.5,801.7L689.5,799.9L691.5,797.9L693.5,795.8L695.5,793.6L697.5,791.2L699.5,788.8L701.5,786.2L703.5,783.6L705.5,781.0L707.5,778.3L709.5,775.5L711.5,772.8L713.5,770.1L715.5,767.3L717.5,764.7L719.5,762.0L721.5,759.5L723.5,757.0L725.5,754.5L727.5,752.2L729.5,750.0L731.5,747.9L733.5,745.9L735.5,743.9L737.5,742.1L739.5,740.3L741.5,738.6L743.5,737.0L745.5,735.5L747.5,734.0L749.5,732.7L751.5,731.4L753.5,730.1L755.5,728.9L757.5,727.8L759.5,726.8L761.5,725.8L763.5,724.9L765.5,724.0L767.5,723.1L769.5,722.3L771.5,721.6L773.5,720.9L775.5,720.3L777.5,719.6L779.5,719.1L781.5,718.5L783.5,718.0L785.5,717.5L787.5,717.1L789.5,716.7L791.5,716.4L793.5,716.1L795.5,715.8L797.5,715.6L799.5,715.4L801.5,715.2L803.5,715.1L805.5,715.1L807.5,715.1L809.5,715.1L811.5,715.2L813.5,715.3L815.5,715.5L817.5,715.7L819.5,716.0L821.5,716.3L823.5,716.7L825.5,717.1L827.5,717.6L829.5,718.1L831.5,718.7L833.5,719.3L835.5,720.0L837.5,720.7L839.5,721.4L841.5,722.2L843.5,723.0L845.5,723.8L847.5,724.7L849.5,725.5L851.5,726.3L853.5,727.2L855.5,728.0L857.5,728.8L859.5,729.7L861.5,730.4L863.5,731.2L865.5,731.9L867.5,732.6L869.5,733.3L871.5,733.9L873.5,734.4L875.5,734.9L877.5,735.4L879.5,735.7L881.5,736.0L883.5,736.2L885.5,736.4L887.5,736.5L889.5,736.4L891.5,736.4L893.5,736.2L895.5,736.0L897.5,735.8L899.5,735.4L901.5,735.1L903.5,734.6L905.5,734.2L907.5,733.7L909.5,733.1L911.5,732.5L913.5,731.9L915.5,731.3L917.5,730.6L919.5,729.9L921.5,729.2L923.5,728.5L925.5,727.8L927.5,727.0L929.5,726.3L931.5,725.5L933.5,724.8L935.5,724.1L937.5,723.3L939.5,722.6L941.5,721.9L943.5,721.2L945.5,720.5L947.5,719.8L949.5,719.1L951.5,718.5L953.5,717.8L955.5,717.2L957.5,716.5L959.5,715.9L961.5,715.3L963.5,714.6L965.5,714.0L967.5,713.4L969.5,712.9L971.5,712.3L973.5,711.7L975.5,711.1L977.5,710.6L979.5,710.1L981.5,709.5L983.5,709.0L985.5,708.5L987.5,708.0L989.5,707.5L991.5,707.0L993.5,706.5L995.5,706.0L997.5,705.5L999.5,705.0L1001.5,704.5L1003.5,704.0L1005.5,703.5L1007.5,702.9L1009.5,702.4L1011.5,701.8L1013.5,701.1L1015.5,700.5L1017.5,699.8L1019.5,699.0L1021.5,698.3L1023.5,697.4L1025.5,696.6L1027.5,695.7L1029.5,694.7L1031.5,693.7L1033.5,692.6L1035.5,691.4L1037.5,690.2L1039.5,688.9L1041.5,687.5L1043.5,686.1L1045.5,684.6L1047.5,683.0L1049.5,681.4L1051.5,679.8L1053.5,678.1L1055.5,676.4L1057.5,674.8L1059.5,673.1L1061.5,671.4L1063.5,669.7L1065.5,668.1L1067.5,666.5L1069.5,665.0L1071.5,663.5L1073.5,662.0L1075.5,660.7L1077.5,659.4L1079.5,658.2L1081.5,657.2L1083.5,656.2L1085.5,655.3L1087.5,654.6L1089.5,654.0L1091.5,653.6L1093.5,653.3L1095.5,653.2L1097.5,653.2L1099.5,653.4L1101.5,653.7L1103.5,654.1L1105.5,654.6L1107.5,655.2L1109.5,656.0L1111.5,656.7L1113.5,657.6L1115.5,658.5L1117.5,659.5L1119.5,660.4L1121.5,661.4L1123.5,662.5L1125.5,663.5L1127.5,664.5L1129.5,665.5L1131.5,666.5L1133.5,667.4L1135.5,668.3L1137.5,669.1L1139.5,669.8L1141.5,670.5L1143.5,671.0L1145.5,671.5L1147.5,671.8L1149.5,672.0L1151.5,672.2L1153.5,672.2L1155.5,672.1L1157.5,671.9L1159.5,671.6L1161.5,671.3L1163.5,670.8L1165.5,670.3L1167.5,669.7L1169.5,669.1L1171.5,668.3L1173.5,667.6L1175.5,666.7L1177.5,665.8L1179.5,664.9L1181.5,663.9L1183.5,662.9L1185.5,661.8L1187.5,660.8L1189.5,659.7L1191.5,658.5L1193.5,657.4L1195.5,656.3L1197.5,655.1L1199.5,653.9L1201.5,652.8L1203.5,651.6L1205.5,650.5L1207.5,649.4L1209.5,648.2L1211.5,647.1L1213.5,646.0L1215.5,645.0L1217.5,643.9L1219.5,642.9L1221.5,641.8L1223.5,640.9L1225.5,639.9L1227.5,639.0L1229.5,638.1L1231.5,637.2L1233.5,636.4L1235.5,635.6L1237.5,634.9L1239.5,634.2L1241.5,633.5L1243.5,632.9L1245.5,632.4L1247.5,631.9L1249.5,631.4L1251.5,631.0L1253.5,630.7L1255.5,630.4L1257.5,630.2L1259.5,630.1L1261.5,630.0L1263.5,630.0L1265.5,630.0L1267.5,630.1L1269.5,630.3L1271.5,630.5L1273.5,630.8L1275.5,631.2L1277.5,631.6L1279.5,632.1L1281.5,632.6L1283.5,633.3L1285.5,634.0L1287.5,634.7L1289.5,635.5L1291.5,636.4L1293.5,637.4L1295.5,638.4L1297.5,639.5L1299.5,640.7L1301.5,642.0L1303.5,643.3L1305.5,644.7L1307.5,646.1L1309.5,647.6L1311.5,649.2L1313.5,650.7L1315.5,652.3L1317.5,653.8L1319.5,655.3L1321.5,656.8L1323.5,658.2L1325.5,659.6L1327.5,660.9L1329.5,662.1L1331.5,663.1L1333.5,664.1L1335.5,664.9L1337.5,665.6L1339.5,666.1L1341.5,666.4L1343.5,666.5L1345.5,666.4L1347.5,666.1L1349.5,665.6L1351.5,664.8L1353.5,663.8L1355.5,662.4L1357.5,660.8L1359.5,658.9L1361.5,656.8L1363.5,654.3L1365.5,651.7L1367.5,648.8L1369.5,645.7L1371.5,642.4L1373.5,638.9L1375.5,635.3L1377.5,631.6L1379.5,627.7L1381.5,623.7L1383.5,619.6L1385.5,615.5L1387.5,611.3L1389.5,607.0L1391.5,602.6L1393.5,598.2L1395.5,593.7L1397.5,589.2L1399.5,584.6L1401.5,579.9L1403.5,575.2L1405.5,570.4L1407.5,565.5L1409.5,562.1" fill="none" stroke="#000" stroke-width="5" stroke-linejoin="round"/>
<path d="M199.5,581.1L201.5,580.4L203.5,579.8L205.5,579.1L207.5,578.5L209.5,577.9L211.5,577.3L213.5,576.7L215.5,576.1L217.5,575.6L219.5,575.2L221.5,574.8L223.5,574.4L225.5,574.1L227.5,573.8L229.5,573.6L231.5,573.5L233.5,573.5L235.5,573.5L237.5,573.6L239.5,573.9L241.5,574.2L243.5,574.7L245.5,575.3L247.5,576.0L249.5,576.8L251.5,577.8L253.5,578.9L255.5,580.2L257.5,581.6L259.5,583.2L261.5,584.9L263.5,586.7L265.5,588.6L267.5,590.7L269.5,592.8L271.5,595.1L273.5,597.4L275.5,599.9L277.5,602.4L279.5,605.0L281.5,607.7L283.5,610.5L285.5,613.3L287.5,616.2L289.5,619.1L291.5,622.1L293.5,625.2L295.5,628.3L297.5,631.4L299.5,634.5L301.5,637.7L303.5,640.9L305.5,644.1L307.5,647.3L309.5,650.5L311.5,653.7L313.5,656.9L315.5,660.0L317.5,663.1L319.5,666.1L321.5,669.0L323.5,671.8L325.5,674.5L327.5,677.1L329.5,679.6L331.5,681.9L333.5,684.1L335.5,686.1L337.5,688.0L339.5,689.6L341.5,691.1L343.5,692.3L345.5,693.3L347.5,694.1L349.5,694.6L351.5,694.9L353.5,694.9L355.5,694.6L357.5,694.1L359.5,693.2L361.5,692.0L363.5,690.6L365.5,689.0L367.5,687.1L369.5,685.0L371.5,682.7L373.5,680.2L375.5,677.6L377.5,674.8L379.5,671.9L381.5,668.9L383.5,665.8L385.5,662.6L387.5,659.3L389.5,656.0L391.5,652.7L393.5,649.4L395.5,646.1L397.5,642.8L399.5,639.6L401.5,636.4L403.5,633.3L405.5,630.2L407.5,627.3L409.5,624.6L411.5,621.9L413.5,619.4L415.5,617.1L417.5,614.9L419.5,612.8L421.5,610.8L423.5,609.0L425.5,607.3L427.5,605.8L429.5,604.4L431.5,603.1L433.5,601.9L435.5,600.9L437.5,600.0L439.5,599.2L441.5,598.6L443.5,598.0L445.5,597.6L447.5,597.3L449.5,597.1L451.5,597.1L453.5,597.1L455.5,597.3L457.5,597.5L459.5,597.9L461.5,598.4L463.5,599.0L465.5,599.7L467.5,600.5L469.5,601.4L471.5,602.4L473.5,603.4L475.5,604.6L477.5,605.8L479.5,607.1L481.5,608.5L483.5,609.9L485.5,611.4L487.5,613.0L489.5,614.6L491.5,616.3L493.5,618.0L495.5,619.8L497.5,621.6L499.5,623.4L501.5,625.3L503.5,627.2L505.5,629.1L507.5,631.0L509.5,632.9L511.5,634.9L513.5,636.8L515.5,638.8L517.5,640.9L519.5,642.9L521.5,644.9L523.5,646.9L525.5,648.9L527.5,650.9L529.5,652.9L531.5,654.9L533.5,656.9L535.5,658.9L537.5,660.8L539.5,662.8L541.5,664.8L543.5,666.7L545.5,668.7L547.5,670.7L549.5,672.7L551.5,674.6L553.5,676.6L555.5,678.6L557.5,680.6L559.5,682.6L561.5,684.6L563.5,686.6L565.5,688.6L567.5,690.6L569.5,692.7L571.5,694.7L573.5,696.8L575.5,698.9L577.5,701.0L579.5,703.1L581.5,705.2L583.5,707.4L585.5,709.6L587.5,711.8L589.5,714.0L591.5,716.3L593.5,718.6L595.5,720.9L597.5,723.3L599.5,725.7L601.5,728.1L603.5,730.6L605.5,733.1L607.5,735.7L609.5,738.3L611.5,740.9L613.5,743.6L615.5,746.4L617.5,749.2L619.5,752.0L621.5,754.9L623.5,757.9L625.5,760.9L627.5,763.9L629.5,766.9L631.5,769.9L633.5,772.9L635.5,775.8L637.5,778.7L639.5,781.6L641.5,784.3L643.5,787.0L645.5,789.6L647.5,792.1L649.5,794.5L651.5,796.7L653.5,798.8L655.5,800.8L657.5,802.5L659.5,804.1L661.5,805.5L663.5,806.6L665.5,807.6L667.5,808.3L669.5,808.8L671.5,809.0L673.5,808.9L675.5,808.6L677.5,808.0L679.5,807.2L681.5,806.1L683.5,804.8L685.5,803.4L687.5,801.7L689.5,799.9L691.5,797.9L693.5,795.8L695.5,793.6L697.5,791.2L699.5,788.8L701.5,786.2L703.5,783.6L705.5,781.0L707.5,778.3L709.5,775.5L711.5,772.8L713.5,770.1L715.5,767.3L717.5,764.7L719.5,762.0L721.5,759.5L723.5,757.0L725.5,754.5L727.5,752.2L729.5,750.0L731.5,747.9L733.5,745.9L735.5,743.9L737.5,742.1L739.5,740.3L741.5,738.6L743.5,737.0L745.5,735.5L747.5,734.0L749.5,732.7L751.5,731.4L753.5,730.1L755.5,728.9L757.5,727.8L759.5,726.8L761.5,725.8L763.5,724.9L765.5,724.0L767.5,723.1L769.5,722.3L771.5,721.6L773.5,720.9L775.5,720.3L777.5,719.6L779.5,719.1L781.5,718.5L783.5,718.0L785.5,717.5L787.5,717.1L789.5,716.7L791.5,716.4L793.5,716.1L795.5,715.8L797.5,715.6L799.5,715.4L801.5,715.2L803.5,715.1L805.5,715.1L807.5,715.1L809.5,715.1L811.5,715.2L813.5,715.3L815.5,715.5L817.5,715.7L819.5,716.0L821.5,716.3L823.5,716.7L825.5,717.1L827.5,717.6L829.5,718.1L831.5,718.7L833.5,719.3L835.5,720.0L837.5,720.7L839.5,721.4L841.5,722.2L843.5,723.0L845.5,723.8L847.5,724.7L849.5,725.5L851.5,726.3L853.5,727.2L855.5,728.0L857.5,728.8L859.5,729.7L861.5,730.4L863.5,731.2L865.5,731.9L867.5,732.6L869.5,733.3L871.5,733.9L873.5,734.4L875.5,734.9L877.5,735.4L879.5,735.7L881.5,736.0L883.5,736.2L885.5,736.4L887.5,736.5L889.5,736.4L891.5,736.4L893.5,736.2L895.5,736.0L897.5,735.8L899.5,735.4L901.5,735.1L903.5,734.6L905.5,734.2L907.5,733.7L909.5,733.1L911.5,732.5L913.5,731.9L915.5,731.3L917.5,730.6L919.5,729.9L921.5,729.2L923.5,728.5L925.5,727.8L927.5,727.0L929.5,726.3L931.5,725.5L933.5,724.8L935.5,724.1L937.5,723.3L939.5,722.6L941.5,721.9L943.5,721.2L945.5,720.5L947.5,719.8L949.5,719.1L951.5,718.5L953.5,717.8L955.5,717.2L957.5,716.5L959.5,715.9L961.5,715.3L963.5,714.6L965.5,714.0L967.5,713.4L969.5,712.9L971.5,712.3L973.5,711.7L975.5,711.1L977.5,710.6L979.5,710.1L981.5,709.5L983.5,709.0L985.5,708.5L987.5,708.0L989.5,707.5L991.5,707.0L993.5,706.5L995.5,706.0L997.5,705.5L999.5,705.0L1001.5,704.5L1003.5,704.0L1005.5,703.5L1007.5,702.9L1009.5,702.4L1011.5,701.8L1013.5,701.1L1015.5,700.5L1017.5,699.8L1019.5,699.0L1021.5,698.3L1023.5,697.4L1025.5,696.6L1027.5,695.7L1029.5,694.7L1031.5,693.7L1033.5,692.6L1035.5,691.4L1037.5,690.2L1039.5,688.9L1041.5,687.5L1043.5,686.1L1045.5,684.6L1047.5,683.0L1049.5,681.4L1051.5,679.8L1053.5,678.1L1055.5,676.4L1057.5,674.8L1059.5,673.1L1061.5,671.4L1063.5,669.7L1065.5,668.1L1067.5,666.5L1069.5,665.0L1071.5,663.5L1073.5,662.0L1075.5,660.7L1077.5,659.4L1079.5,658.2L1081.5,657.2L1083.5,656.2L1085.5,655.3L1087.5,654.6L1089.5,654.0L1091.5,653.6L1093.5,653.3L1095.5,653.2L1097.5,653.2L1099.5,653.4L1101.5,653.7L1103.5,654.1L1105.5,654.6L1107.5,655.2L1109.5,656.0L1111.5,656.7L1113.5,657.6L1115.5,658.5L1117.5,659.5L1119.5,660.4L1121.5,661.4L1123.5,662.5L1125.5,663.5L1127.5,664.5L1129.5,665.5L1131.5,666.5L1133.5,667.4L1135.5,668.3L1137.5,669.1L1139.5,669.8L1141.5,670.5L1143.5,671.0L1145.5,671.5L1147.5,671.8L1149.5,672.0L1151.5,672.2L1153.5,672.2L1155.5,672.1L1157.5,671.9L1159.5,671.6L1161.5,671.3L1163.5,670.8L1165.5,670.3L1167.5,669.7L1169.5,669.1L1171.5,668.3L1173.5,667.6L1175.5,666.7L1177.5,665.8L1179.5,664.9L1181.5,663.9L1183.5,662.9L1185.5,661.8L1187.5,660.8L1189.5,659.7L1191.5,658.5L1193.5,657.4L1195.5,656.3L1197.5,655.1L1199.5,653.9L1201.5,652.8L1203.5,651.6L1205.5,650.5L1207.5,649.4L1209.5,648.2L1211.5,647.1L1213.5,646.0L1215.5,645.0L1217.5,643.9L1219.5,642.9L1221.5,641.8L1223.5,640.9L1225.5,639.9L1227.5,639.0L1229.5,638.1L1231.5,637.2L1233.5,636.4L1235.5,635.6L1237.5,634.9L1239.5,634.2L1241.5,633.5L1243.5,632.9L1245.5,632.4L1247.5,631.9L1249.5,631.4L1251.5,631.0L1253.5,630.7L1255.5,630.4L1257.5,630.2L1259.5,630.1L1261.5,630.0L1263.5,630.0L1265.5,630.0L1267.5,630.1L1269.5,630.3L1271.5,630.5L1273.5,630.8L1275.5,631.2L1277.5,631.6L1279.5,632.1L1281.5,632.6L1283.5,633.3L1285.5,634.0L1287.5,634.7L1289.5,635.5L1291.5,636.4L1293.5,637.4L1295.5,638.4L1297.5,639.5L1299.5,640.7L1301.5,642.0L1303.5,643.3L1305.5,644.7L1307.5,646.1L1309.5,647.6L1311.5,649.2L1313.5,650.7L1315.5,652.3L1317.5,653.8L1319.5,655.3L1321.5,656.8L1323.5,658.2L1325.5,659.6L1327.5,660.9L1329.5,662.1L1331.5,663.1L1333.5,664.1L1335.5,664.9L1337.5,665.8L1339.5,666.9L1341.5,667.8L1343.5,668.7L1345.5,669.5L1347.5,670.1L1349.5,670.7L1351.5,671.1L1353.5,671.4L1355.5,671.6L1357.5,671.7L1359.5,671.6L1361.5,671.3L1363.5,670.9L1365.5,670.4L1367.5,669.8L1369.5,669.0L1371.5,668.1L1373.5,667.1L1375.5,666.0L1377.5,664.7L1379.5,663.3L1381.5,661.8L1383.5,660.2L1385.5,658.5L1387.5,656.7L1389.5,654.8L1391.5,652.8L1393.5,650.7L1395.5,648.5L1397.5,646.2L1399.5,643.9L1401.5,641.4L1403.5,638.9L1405.5,636.4L1407.5,633.7L1409.5,631.9L1409.5,912.0L199.5,912.0Z" fill="#36c8b6" stroke="#000" stroke-width="7" stroke-linejoin="round"/><path class="aa" d="M199.5,581.1L201.5,580.4L203.5,579.8L205.5,579.1L207.5,578.5L209.5,577.9L211.5,577.3L213.5,576.7L215.5,576.1L217.5,575.6L219.5,575.2L221.5,574.8L223.5,574.4L225.5,574.1L227.5,573.8L229.5,573.6L231.5,573.5L233.5,573.5L235.5,573.5L237.5,573.6L239.5,573.9L241.5,574.2L243.5,574.7L245.5,575.3L247.5,576.0L249.5,576.8L251.5,577.8L253.5,578.9L255.5,580.2L257.5,581.6L259.5,583.2L261.5,584.9L263.5,586.7L265.5,588.6L267.5,590.7L269.5,592.8L271.5,595.1L273.5,597.4L275.5,599.9L277.5,602.4L279.5,605.0L281.5,607.7L283.5,610.5L285.5,613.3L287.5,616.2L289.5,619.1L291.5,622.1L293.5,625.2L295.5,628.3L297.5,631.4L299.5,634.5L301.5,637.7L303.5,640.9L305.5,644.1L307.5,647.3L309.5,650.5L311.5,653.7L313.5,656.9L315.5,660.0L317.5,663.1L319.5,666.1L321.5,669.0L323.5,671.8L325.5,674.5L327.5,677.1L329.5,679.6L331.5,681.9L333.5,684.1L335.5,686.1L337.5,688.0L339.5,689.6L341.5,691.1L343.5,692.3L345.5,693.3L347.5,694.1L349.5,694.6L351.5,694.9L353.5,694.9L355.5,694.6L357.5,694.1L359.5,693.2L361.5,692.0L363.5,690.6L365.5,689.0L367.5,687.1L369.5,685.0L371.5,682.7L373.5,680.2L375.5,677.6L377.5,674.8L379.5,671.9L381.5,668.9L383.5,665.8L385.5,662.6L387.5,659.3L389.5,656.0L391.5,652.7L393.5,649.4L395.5,646.1L397.5,642.8L399.5,639.6L401.5,636.4L403.5,633.3L405.5,630.2L407.5,627.3L409.5,624.6L411.5,621.9L413.5,619.4L415.5,617.1L417.5,614.9L419.5,612.8L421.5,610.8L423.5,609.0L425.5,607.3L427.5,605.8L429.5,604.4L431.5,603.1L433.5,601.9L435.5,600.9L437.5,600.0L439.5,599.2L441.5,598.6L443.5,598.0L445.5,597.6L447.5,597.3L449.5,597.1L451.5,597.1L453.5,597.1L455.5,597.3L457.5,597.5L459.5,597.9L461.5,598.4L463.5,599.0L465.5,599.7L467.5,600.5L469.5,601.4L471.5,602.4L473.5,603.4L475.5,604.6L477.5,605.8L479.5,607.1L481.5,608.5L483.5,609.9L485.5,611.4L487.5,613.0L489.5,614.6L491.5,616.3L493.5,618.0L495.5,619.8L497.5,621.6L499.5,623.4L501.5,625.3L503.5,627.2L505.5,629.1L507.5,631.0L509.5,632.9L511.5,634.9L513.5,636.8L515.5,638.8L517.5,640.9L519.5,642.9L521.5,644.9L523.5,646.9L525.5,648.9L527.5,650.9L529.5,652.9L531.5,654.9L533.5,656.9L535.5,658.9L537.5,660.8L539.5,662.8L541.5,664.8L543.5,666.7L545.5,668.7L547.5,670.7L549.5,672.7L551.5,674.6L553.5,676.6L555.5,678.6L557.5,680.6L559.5,682.6L561.5,684.6L563.5,686.6L565.5,688.6L567.5,690.6L569.5,692.7L571.5,694.7L573.5,696.8L575.5,698.9L577.5,701.0L579.5,703.1L581.5,705.2L583.5,707.4L585.5,709.6L587.5,711.8L589.5,714.0L591.5,716.3L593.5,718.6L595.5,720.9L597.5,723.3L599.5,725.7L601.5,728.1L603.5,730.6L605.5,733.1L607.5,735.7L609.5,738.3L611.5,740.9L613.5,743.6L615.5,746.4L617.5,749.2L619.5,752.0L621.5,754.9L623.5,757.9L625.5,760.9L627.5,763.9L629.5,766.9L631.5,769.9L633.5,772.9L635.5,775.8L637.5,778.7L639.5,781.6L641.5,784.3L643.5,787.0L645.5,789.6L647.5,792.1L649.5,794.5L651.5,796.7L653.5,798.8L655.5,800.8L657.5,802.5L659.5,804.1L661.5,805.5L663.5,806.6L665.5,807.6L667.5,808.3L669.5,808.8L671.5,809.0L673.5,808.9L675.5,808.6L677.5,808.0L679.5,807.2L681.5,806.1L683.5,804.8L685.5,803.4L687.5,801.7L689.5,799.9L691.5,797.9L693.5,795.8L695.5,793.6L697.5,791.2L699.5,788.8L701.5,786.2L703.5,783.6L705.5,781.0L707.5,778.3L709.5,775.5L711.5,772.8L713.5,770.1L715.5,767.3L717.5,764.7L719.5,762.0L721.5,759.5L723.5,757.0L725.5,754.5L727.5,752.2L729.5,750.0L731.5,747.9L733.5,745.9L735.5,743.9L737.5,742.1L739.5,740.3L741.5,738.6L743.5,737.0L745.5,735.5L747.5,734.0L749.5,732.7L751.5,731.4L753.5,730.1L755.5,728.9L757.5,727.8L759.5,726.8L761.5,725.8L763.5,724.9L765.5,724.0L767.5,723.1L769.5,722.3L771.5,721.6L773.5,720.9L775.5,720.3L777.5,719.6L779.5,719.1L781.5,718.5L783.5,718.0L785.5,717.5L787.5,717.1L789.5,716.7L791.5,716.4L793.5,716.1L795.5,715.8L797.5,715.6L799.5,715.4L801.5,715.2L803.5,715.1L805.5,715.1L807.5,715.1L809.5,715.1L811.5,715.2L813.5,715.3L815.5,715.5L817.5,715.7L819.5,716.0L821.5,716.3L823.5,716.7L825.5,717.1L827.5,717.6L829.5,718.1L831.5,718.7L833.5,719.3L835.5,720.0L837.5,720.7L839.5,721.4L841.5,722.2L843.5,723.0L845.5,723.8L847.5,724.7L849.5,725.5L851.5,726.3L853.5,727.2L855.5,728.0L857.5,728.8L859.5,729.7L861.5,730.4L863.5,731.2L865.5,731.9L867.5,732.6L869.5,733.3L871.5,733.9L873.5,734.4L875.5,734.9L877.5,735.4L879.5,735.7L881.5,736.0L883.5,736.2L885.5,736.4L887.5,736.5L889.5,736.4L891.5,736.4L893.5,736.2L895.5,736.0L897.5,735.8L899.5,735.4L901.5,735.1L903.5,734.6L905.5,734.2L907.5,733.7L909.5,733.1L911.5,732.5L913.5,731.9L915.5,731.3L917.5,730.6L919.5,729.9L921.5,729.2L923.5,728.5L925.5,727.8L927.5,727.0L929.5,726.3L931.5,725.5L933.5,724.8L935.5,724.1L937.5,723.3L939.5,722.6L941.5,721.9L943.5,721.2L945.5,720.5L947.5,719.8L949.5,719.1L951.5,718.5L953.5,717.8L955.5,717.2L957.5,716.5L959.5,715.9L961.5,715.3L963.5,714.6L965.5,714.0L967.5,713.4L969.5,712.9L971.5,712.3L973.5,711.7L975.5,711.1L977.5,710.6L979.5,710.1L981.5,709.5L983.5,709.0L985.5,708.5L987.5,708.0L989.5,707.5L991.5,707.0L993.5,706.5L995.5,706.0L997.5,705.5L999.5,705.0L1001.5,704.5L1003.5,704.0L1005.5,703.5L1007.5,702.9L1009.5,702.4L1011.5,701.8L1013.5,701.1L1015.5,700.5L1017.5,699.8L1019.5,699.0L1021.5,698.3L1023.5,697.4L1025.5,696.6L1027.5,695.7L1029.5,694.7L1031.5,693.7L1033.5,692.6L1035.5,691.4L1037.5,690.2L1039.5,688.9L1041.5,687.5L1043.5,686.1L1045.5,684.6L1047.5,683.0L1049.5,681.4L1051.5,679.8L1053.5,678.1L1055.5,676.4L1057.5,674.8L1059.5,673.1L1061.5,671.4L1063.5,669.7L1065.5,668.1L1067.5,666.5L1069.5,665.0L1071.5,663.5L1073.5,662.0L1075.5,660.7L1077.5,659.4L1079.5,658.2L1081.5,657.2L1083.5,656.2L1085.5,655.3L1087.5,654.6L1089.5,654.0L1091.5,653.6L1093.5,653.3L1095.5,653.2L1097.5,653.2L1099.5,653.4L1101.5,653.7L1103.5,654.1L1105.5,654.6L1107.5,655.2L1109.5,656.0L1111.5,656.7L1113.5,657.6L1115.5,658.5L1117.5,659.5L1119.5,660.4L1121.5,661.4L1123.5,662.5L1125.5,663.5L1127.5,664.5L1129.5,665.5L1131.5,666.5L1133.5,667.4L1135.5,668.3L1137.5,669.1L1139.5,669.8L1141.5,670.5L1143.5,671.0L1145.5,671.5L1147.5,671.8L1149.5,672.0L1151.5,672.2L1153.5,672.2L1155.5,672.1L1157.5,671.9L1159.5,671.6L1161.5,671.3L1163.5,670.8L1165.5,670.3L1167.5,669.7L1169.5,669.1L1171.5,668.3L1173.5,667.6L1175.5,666.7L1177.5,665.8L1179.5,664.9L1181.5,663.9L1183.5,662.9L1185.5,661.8L1187.5,660.8L1189.5,659.7L1191.5,658.5L1193.5,657.4L1195.5,656.3L1197.5,655.1L1199.5,653.9L1201.5,652.8L1203.5,651.6L1205.5,650.5L1207.5,649.4L1209.5,648.2L1211.5,647.1L1213.5,646.0L1215.5,645.0L1217.5,643.9L1219.5,642.9L1221.5,641.8L1223.5,640.9L1225.5,639.9L1227.5,639.0L1229.5,638.1L1231.5,637.2L1233.5,636.4L1235.5,635.6L1237.5,634.9L1239.5,634.2L1241.5,633.5L1243.5,632.9L1245.5,632.4L1247.5,631.9L1249.5,631.4L1251.5,631.0L1253.5,630.7L1255.5,630.4L1257.5,630.2L1259.5,630.1L1261.5,630.0L1263.5,630.0L1265.5,630.0L1267.5,630.1L1269.5,630.3L1271.5,630.5L1273.5,630.8L1275.5,631.2L1277.5,631.6L1279.5,632.1L1281.5,632.6L1283.5,633.3L1285.5,634.0L1287.5,634.7L1289.5,635.5L1291.5,636.4L1293.5,637.4L1295.5,638.4L1297.5,639.5L1299.5,640.7L1301.5,642.0L1303.5,643.3L1305.5,644.7L1307.5,646.1L1309.5,647.6L1311.5,649.2L1313.5,650.7L1315.5,652.3L1317.5,653.8L1319.5,655.3L1321.5,656.8L1323.5,658.2L1325.5,659.6L1327.5,660.9L1329.5,662.1L1331.5,663.1L1333.5,664.1L1335.5,664.9L1337.5,665.8L1339.5,666.9L1341.5,667.8L1343.5,668.7L1345.5,669.5L1347.5,670.1L1349.5,670.7L1351.5,671.1L1353.5,671.4L1355.5,671.6L1357.5,671.7L1359.5,671.6L1361.5,671.3L1363.5,670.9L1365.5,670.4L1367.5,669.8L1369.5,669.0L1371.5,668.1L1373.5,667.1L1375.5,666.0L1377.5,664.7L1379.5,663.3L1381.5,661.8L1383.5,660.2L1385.5,658.5L1387.5,656.7L1389.5,654.8L1391.5,652.8L1393.5,650.7L1395.5,648.5L1397.5,646.2L1399.5,643.9L1401.5,641.4L1403.5,638.9L1405.5,636.4L1407.5,633.7L1409.5,631.9" fill="none" stroke="#000" stroke-width="5" stroke-linejoin="round"/>
<rect x="199.5" y="530.5" width="1210.0" height="381.5" fill="none" stroke="#000" stroke-width="7" stroke-linejoin="round"/>
<line x1="251.5" y1="912.0" x2="251.5" y2="905.1" stroke="#000" stroke-width="7" stroke-linecap="round"/>
<line x1="357.5" y1="912.0" x2="357.5" y2="896.3" stroke="#000" stroke-width="7" stroke-linecap="round"/>
<line x1="462.5" y1="912.0" x2="462.5" y2="905.1" stroke="#000" stroke-width="7" stroke-linecap="round"/>
<line x1="567.5" y1="912.0" x2="567.5" y2="896.3" stroke="#000" stroke-width="7" stroke-linecap="round"/>
<line x1="672.5" y1="912.0" x2="672.5" y2="905.1" stroke="#000" stroke-width="7" stroke-linecap="round"/>
<line x1="777.5" y1="912.0" x2="777.5" y2="896.3" stroke="#000" stroke-width="7" stroke-linecap="round"/>
<line x1="883.5" y1="912.0" x2="883.5" y2="905.1" stroke="#000" stroke-width="7" stroke-linecap="round"/>
<line x1="988.5" y1="912.0" x2="988.5" y2="896.3" stroke="#000" stroke-width="7" stroke-linecap="round"/>
<line x1="1093.5" y1="912.0" x2="1093.5" y2="905.1" stroke="#000" stroke-width="7" stroke-linecap="round"/>
<line x1="1198.5" y1="912.0" x2="1198.5" y2="896.3" stroke="#000" stroke-width="7" stroke-linecap="round"/>
<line x1="1303.5" y1="912.0" x2="1303.5" y2="905.1" stroke="#000" stroke-width="7" stroke-linecap="round"/>
<line x1="199.5" y1="721.2" x2="206.8" y2="721.2" stroke="#000" stroke-width="6.4" stroke-linecap="round"/>
<path d="M199.5,1028.0L201.5,1027.2L203.5,1026.4L205.5,1025.7L207.5,1024.9L209.5,1024.2L211.5,1023.5L213.5,1022.8L215.5,1022.1L217.5,1021.4L219.5,1020.8L221.5,1020.3L223.5,1019.7L225.5,1019.2L227.5,1018.8L229.5,1018.4L231.5,1018.0L233.5,1017.7L235.5,1017.5L237.5,1017.3L239.5,1017.2L241.5,1017.2L243.5,1017.2L245.5,1017.4L247.5,1017.5L249.5,1017.8L251.5,1018.2L253.5,1018.6L255.5,1019.2L257.5,1019.8L259.5,1020.5L261.5,1021.3L263.5,1022.1L265.5,1023.1L267.5,1024.0L269.5,1025.1L271.5,1026.2L273.5,1027.4L275.5,1028.6L277.5,1029.8L279.5,1031.2L281.5,1032.5L283.5,1033.9L285.5,1035.3L287.5,1036.8L289.5,1038.2L291.5,1039.7L293.5,1041.3L295.5,1042.8L297.5,1044.3L299.5,1045.9L301.5,1047.5L303.5,1049.0L305.5,1050.6L307.5,1052.2L309.5,1053.7L311.5,1055.3L313.5,1056.8L315.5,1058.2L317.5,1059.7L319.5,1061.1L321.5,1062.4L323.5,1063.7L325.5,1065.0L327.5,1066.1L329.5,1067.2L331.5,1068.2L333.5,1069.2L335.5,1070.0L337.5,1070.8L339.5,1071.4L341.5,1071.9L343.5,1072.4L345.5,1072.7L347.5,1072.8L349.5,1072.9L351.5,1072.8L353.5,1072.5L355.5,1072.1L357.5,1071.6L359.5,1070.9L361.5,1070.0L363.5,1069.0L365.5,1067.9L367.5,1066.7L369.5,1065.4L371.5,1063.9L373.5,1062.4L375.5,1060.9L377.5,1059.2L379.5,1057.5L381.5,1055.8L383.5,1054.0L385.5,1052.2L387.5,1050.4L389.5,1048.6L391.5,1046.8L393.5,1045.0L395.5,1043.3L397.5,1041.6L399.5,1040.0L401.5,1038.4L403.5,1036.9L405.5,1035.4L407.5,1034.1L409.5,1032.9L411.5,1031.8L413.5,1030.8L415.5,1029.9L417.5,1029.1L419.5,1028.4L421.5,1027.9L423.5,1027.4L425.5,1027.0L427.5,1026.8L429.5,1026.6L431.5,1026.5L433.5,1026.6L435.5,1026.7L437.5,1026.9L439.5,1027.2L441.5,1027.6L443.5,1028.1L445.5,1028.7L447.5,1029.3L449.5,1030.1L451.5,1030.9L453.5,1031.8L455.5,1032.8L457.5,1033.9L459.5,1035.0L461.5,1036.2L463.5,1037.5L465.5,1038.8L467.5,1040.2L469.5,1041.7L471.5,1043.2L473.5,1044.8L475.5,1046.5L477.5,1048.2L479.5,1049.9L481.5,1051.7L483.5,1053.5L485.5,1055.4L487.5,1057.3L489.5,1059.2L491.5,1061.1L493.5,1063.1L495.5,1065.1L497.5,1067.1L499.5,1069.2L501.5,1071.2L503.5,1073.3L505.5,1075.3L507.5,1077.4L509.5,1079.5L511.5,1081.5L513.5,1083.6L515.5,1085.6L517.5,1087.7L519.5,1089.7L521.5,1091.7L523.5,1093.7L525.5,1095.7L527.5,1097.7L529.5,1099.7L531.5,1101.7L533.5,1103.6L535.5,1105.6L537.5,1107.6L539.5,1109.6L541.5,1111.5L543.5,1113.5L545.5,1115.5L547.5,1117.4L549.5,1119.4L551.5,1121.4L553.5,1123.3L555.5,1125.3L557.5,1127.3L559.5,1129.3L561.5,1131.3L563.5,1133.3L565.5,1135.3L567.5,1137.3L569.5,1139.4L571.5,1141.4L573.5,1143.5L575.5,1145.6L577.5,1147.7L579.5,1149.8L581.5,1151.9L583.5,1154.1L585.5,1156.2L587.5,1158.5L589.5,1160.7L591.5,1162.9L593.5,1165.2L595.5,1167.6L597.5,1169.9L599.5,1172.3L601.5,1174.8L603.5,1177.2L605.5,1179.7L607.5,1182.3L609.5,1184.9L611.5,1187.5L613.5,1190.2L615.5,1193.0L617.5,1195.8L619.5,1198.6L621.5,1201.5L623.5,1204.5L625.5,1207.5L627.5,1210.4L629.5,1213.4L631.5,1216.4L633.5,1219.4L635.5,1222.4L637.5,1225.3L639.5,1228.1L641.5,1230.9L643.5,1233.6L645.5,1236.2L647.5,1238.6L649.5,1241.0L651.5,1243.2L653.5,1245.3L655.5,1247.3L657.5,1249.0L659.5,1250.6L661.5,1252.0L663.5,1253.1L665.5,1254.1L667.5,1254.8L669.5,1255.3L671.5,1255.5L673.5,1255.4L675.5,1255.1L677.5,1254.5L679.5,1253.7L681.5,1252.6L683.5,1251.3L685.5,1249.9L687.5,1248.2L689.5,1246.4L691.5,1244.4L693.5,1242.3L695.5,1240.1L697.5,1237.7L699.5,1235.3L701.5,1232.7L703.5,1230.1L705.5,1227.5L707.5,1224.8L709.5,1222.1L711.5,1219.3L713.5,1216.6L715.5,1213.9L717.5,1211.2L719.5,1208.6L721.5,1206.0L723.5,1203.5L725.5,1201.1L727.5,1198.8L729.5,1196.6L731.5,1194.5L733.5,1192.5L735.5,1190.5L737.5,1188.7L739.5,1186.9L741.5,1185.2L743.5,1183.6L745.5,1182.1L747.5,1180.7L749.5,1179.3L751.5,1178.0L753.5,1176.8L755.5,1175.6L757.5,1174.5L759.5,1173.4L761.5,1172.4L763.5,1171.5L765.5,1170.6L767.5,1169.8L769.5,1169.0L771.5,1168.3L773.5,1167.6L775.5,1166.9L777.5,1166.3L779.5,1165.7L781.5,1165.2L783.5,1164.7L785.5,1164.2L787.5,1163.8L789.5,1163.4L791.5,1163.0L793.5,1162.7L795.5,1162.5L797.5,1162.2L799.5,1162.0L801.5,1161.9L803.5,1161.8L805.5,1161.7L807.5,1161.7L809.5,1161.8L811.5,1161.9L813.5,1162.0L815.5,1162.2L817.5,1162.4L819.5,1162.7L821.5,1163.0L823.5,1163.3L825.5,1163.8L827.5,1164.2L829.5,1164.8L831.5,1165.3L833.5,1166.0L835.5,1166.6L837.5,1167.3L839.5,1168.1L841.5,1168.9L843.5,1169.7L845.5,1170.5L847.5,1171.3L849.5,1172.1L851.5,1173.0L853.5,1173.8L855.5,1174.7L857.5,1175.5L859.5,1176.3L861.5,1177.1L863.5,1177.8L865.5,1178.6L867.5,1179.3L869.5,1179.9L871.5,1180.5L873.5,1181.1L875.5,1181.6L877.5,1182.0L879.5,1182.4L881.5,1182.7L883.5,1182.9L885.5,1183.0L887.5,1183.1L889.5,1183.1L891.5,1183.0L893.5,1182.8L895.5,1182.6L897.5,1182.4L899.5,1182.1L901.5,1181.7L903.5,1181.3L905.5,1180.8L907.5,1180.3L909.5,1179.7L911.5,1179.2L913.5,1178.6L915.5,1177.9L917.5,1177.2L919.5,1176.6L921.5,1175.9L923.5,1175.1L925.5,1174.4L927.5,1173.7L929.5,1172.9L931.5,1172.2L933.5,1171.4L935.5,1170.7L937.5,1170.0L939.5,1169.3L941.5,1168.5L943.5,1167.8L945.5,1167.1L947.5,1166.5L949.5,1165.8L951.5,1165.1L953.5,1164.5L955.5,1163.8L957.5,1163.2L959.5,1162.5L961.5,1161.9L963.5,1161.3L965.5,1160.7L967.5,1160.1L969.5,1159.5L971.5,1158.9L973.5,1158.4L975.5,1157.8L977.5,1157.3L979.5,1156.7L981.5,1156.2L983.5,1155.7L985.5,1155.2L987.5,1154.6L989.5,1154.2L991.5,1153.7L993.5,1153.2L995.5,1152.7L997.5,1152.2L999.5,1151.7L1001.5,1151.2L1003.5,1150.7L1005.5,1150.2L1007.5,1149.6L1009.5,1149.0L1011.5,1148.4L1013.5,1147.8L1015.5,1147.2L1017.5,1146.5L1019.5,1145.7L1021.5,1145.0L1023.5,1144.1L1025.5,1143.3L1027.5,1142.4L1029.5,1141.4L1031.5,1140.4L1033.5,1139.3L1035.5,1138.1L1037.5,1136.9L1039.5,1135.6L1041.5,1134.2L1043.5,1132.8L1045.5,1131.3L1047.5,1129.7L1049.5,1128.1L1051.5,1126.5L1053.5,1124.8L1055.5,1123.2L1057.5,1121.5L1059.5,1119.8L1061.5,1118.1L1063.5,1116.5L1065.5,1114.8L1067.5,1113.3L1069.5,1111.7L1071.5,1110.2L1073.5,1108.8L1075.5,1107.5L1077.5,1106.2L1079.5,1105.0L1081.5,1103.9L1083.5,1103.0L1085.5,1102.1L1087.5,1101.4L1089.5,1100.8L1091.5,1100.4L1093.5,1100.1L1095.5,1100.0L1097.5,1100.0L1099.5,1100.2L1101.5,1100.5L1103.5,1100.9L1105.5,1101.4L1107.5,1102.0L1109.5,1102.7L1111.5,1103.5L1113.5,1104.4L1115.5,1105.3L1117.5,1106.2L1119.5,1107.2L1121.5,1108.2L1123.5,1109.2L1125.5,1110.2L1127.5,1111.3L1129.5,1112.2L1131.5,1113.2L1133.5,1114.1L1135.5,1115.0L1137.5,1115.8L1139.5,1116.6L1141.5,1117.2L1143.5,1117.8L1145.5,1118.2L1147.5,1118.6L1149.5,1118.8L1151.5,1118.9L1153.5,1118.9L1155.5,1118.8L1157.5,1118.7L1159.5,1118.4L1161.5,1118.0L1163.5,1117.6L1165.5,1117.1L1167.5,1116.5L1169.5,1115.8L1171.5,1115.1L1173.5,1114.3L1175.5,1113.5L1177.5,1112.6L1179.5,1111.6L1181.5,1110.7L1183.5,1109.6L1185.5,1108.6L1187.5,1107.5L1189.5,1106.4L1191.5,1105.3L1193.5,1104.2L1195.5,1103.0L1197.5,1101.9L1199.5,1100.7L1201.5,1099.6L1203.5,1098.4L1205.5,1097.3L1207.5,1096.1L1209.5,1095.0L1211.5,1093.9L1213.5,1092.8L1215.5,1091.7L1217.5,1090.7L1219.5,1089.6L1221.5,1088.6L1223.5,1087.6L1225.5,1086.7L1227.5,1085.8L1229.5,1084.9L1231.5,1084.0L1233.5,1083.2L1235.5,1082.4L1237.5,1081.7L1239.5,1081.0L1241.5,1080.3L1243.5,1079.7L1245.5,1079.2L1247.5,1078.7L1249.5,1078.2L1251.5,1077.8L1253.5,1077.5L1255.5,1077.3L1257.5,1077.0L1259.5,1076.9L1261.5,1076.8L1263.5,1076.8L1265.5,1076.8L1267.5,1076.9L1269.5,1077.1L1271.5,1077.3L1273.5,1077.6L1275.5,1078.0L1277.5,1078.4L1279.5,1078.9L1281.5,1079.5L1283.5,1080.1L1285.5,1080.8L1287.5,1081.5L1289.5,1082.3L1291.5,1083.2L1293.5,1084.2L1295.5,1085.2L1297.5,1086.3L1299.5,1087.5L1301.5,1088.8L1303.5,1090.1L1305.5,1091.5L1307.5,1092.9L1309.5,1094.4L1311.5,1096.0L1313.5,1097.5L1315.5,1099.1L1317.5,1100.6L1319.5,1102.1L1321.5,1103.6L1323.5,1105.0L1325.5,1106.4L1327.5,1107.6L1329.5,1108.8L1331.5,1109.9L1333.5,1110.8L1335.5,1111.7L1337.5,1112.3L1339.5,1112.8L1341.5,1113.1L1343.5,1113.3L1345.5,1113.2L1347.5,1112.9L1349.5,1112.4L1351.5,1111.6L1353.5,1110.5L1355.5,1109.2L1357.5,1107.6L1359.5,1105.7L1361.5,1103.5L1363.5,1101.1L1365.5,1098.4L1367.5,1095.6L1369.5,1092.5L1371.5,1089.2L1373.5,1085.7L1375.5,1082.1L1377.5,1078.4L1379.5,1074.5L1381.5,1070.5L1383.5,1066.5L1385.5,1062.3L1387.5,1058.1L1389.5,1053.8L1391.5,1049.5L1393.5,1045.1L1395.5,1040.6L1397.5,1036.1L1399.5,1031.5L1401.5,1026.8L1403.5,1022.1L1405.5,1017.3L1407.5,1012.5L1409.5,1009.1L1409.5,1358.3L199.5,1358.3Z" fill="#00d28b" stroke="#000" stroke-width="7" stroke-linejoin="round"/><path class="aa" d="M199.5,1028.0L201.5,1027.2L203.5,1026.4L205.5,1025.7L207.5,1024.9L209.5,1024.2L211.5,1023.5L213.5,1022.8L215.5,1022.1L217.5,1021.4L219.5,1020.8L221.5,1020.3L223.5,1019.7L225.5,1019.2L227.5,1018.8L229.5,1018.4L231.5,1018.0L233.5,1017.7L235.5,1017.5L237.5,1017.3L239.5,1017.2L241.5,1017.2L243.5,1017.2L245.5,1017.4L247.5,1017.5L249.5,1017.8L251.5,1018.2L253.5,1018.6L255.5,1019.2L257.5,1019.8L259.5,1020.5L261.5,1021.3L263.5,1022.1L265.5,1023.1L267.5,1024.0L269.5,1025.1L271.5,1026.2L273.5,1027.4L275.5,1028.6L277.5,1029.8L279.5,1031.2L281.5,1032.5L283.5,1033.9L285.5,1035.3L287.5,1036.8L289.5,1038.2L291.5,1039.7L293.5,1041.3L295.5,1042.8L297.5,1044.3L299.5,1045.9L301.5,1047.5L303.5,1049.0L305.5,1050.6L307.5,1052.2L309.5,1053.7L311.5,1055.3L313.5,1056.8L315.5,1058.2L317.5,1059.7L319.5,1061.1L321.5,1062.4L323.5,1063.7L325.5,1065.0L327.5,1066.1L329.5,1067.2L331.5,1068.2L333.5,1069.2L335.5,1070.0L337.5,1070.8L339.5,1071.4L341.5,1071.9L343.5,1072.4L345.5,1072.7L347.5,1072.8L349.5,1072.9L351.5,1072.8L353.5,1072.5L355.5,1072.1L357.5,1071.6L359.5,1070.9L361.5,1070.0L363.5,1069.0L365.5,1067.9L367.5,1066.7L369.5,1065.4L371.5,1063.9L373.5,1062.4L375.5,1060.9L377.5,1059.2L379.5,1057.5L381.5,1055.8L383.5,1054.0L385.5,1052.2L387.5,1050.4L389.5,1048.6L391.5,1046.8L393.5,1045.0L395.5,1043.3L397.5,1041.6L399.5,1040.0L401.5,1038.4L403.5,1036.9L405.5,1035.4L407.5,1034.1L409.5,1032.9L411.5,1031.8L413.5,1030.8L415.5,1029.9L417.5,1029.1L419.5,1028.4L421.5,1027.9L423.5,1027.4L425.5,1027.0L427.5,1026.8L429.5,1026.6L431.5,1026.5L433.5,1026.6L435.5,1026.7L437.5,1026.9L439.5,1027.2L441.5,1027.6L443.5,1028.1L445.5,1028.7L447.5,1029.3L449.5,1030.1L451.5,1030.9L453.5,1031.8L455.5,1032.8L457.5,1033.9L459.5,1035.0L461.5,1036.2L463.5,1037.5L465.5,1038.8L467.5,1040.2L469.5,1041.7L471.5,1043.2L473.5,1044.8L475.5,1046.5L477.5,1048.2L479.5,1049.9L481.5,1051.7L483.5,1053.5L485.5,1055.4L487.5,1057.3L489.5,1059.2L491.5,1061.1L493.5,1063.1L495.5,1065.1L497.5,1067.1L499.5,1069.2L501.5,1071.2L503.5,1073.3L505.5,1075.3L507.5,1077.4L509.5,1079.5L511.5,1081.5L513.5,1083.6L515.5,1085.6L517.5,1087.7L519.5,1089.7L521.5,1091.7L523.5,1093.7L525.5,1095.7L527.5,1097.7L529.5,1099.7L531.5,1101.7L533.5,1103.6L535.5,1105.6L537.5,1107.6L539.5,1109.6L541.5,1111.5L543.5,1113.5L545.5,1115.5L547.5,1117.4L549.5,1119.4L551.5,1121.4L553.5,1123.3L555.5,1125.3L557.5,1127.3L559.5,1129.3L561.5,1131.3L563.5,1133.3L565.5,1135.3L567.5,1137.3L569.5,1139.4L571.5,1141.4L573.5,1143.5L575.5,1145.6L577.5,1147.7L579.5,1149.8L581.5,1151.9L583.5,1154.1L585.5,1156.2L587.5,1158.5L589.5,1160.7L591.5,1162.9L593.5,1165.2L595.5,1167.6L597.5,1169.9L599.5,1172.3L601.5,1174.8L603.5,1177.2L605.5,1179.7L607.5,1182.3L609.5,1184.9L611.5,1187.5L613.5,1190.2L615.5,1193.0L617.5,1195.8L619.5,1198.6L621.5,1201.5L623.5,1204.5L625.5,1207.5L627.5,1210.4L629.5,1213.4L631.5,1216.4L633.5,1219.4L635.5,1222.4L637.5,1225.3L639.5,1228.1L641.5,1230.9L643.5,1233.6L645.5,1236.2L647.5,1238.6L649.5,1241.0L651.5,1243.2L653.5,1245.3L655.5,1247.3L657.5,1249.0L659.5,1250.6L661.5,1252.0L663.5,1253.1L665.5,1254.1L667.5,1254.8L669.5,1255.3L671.5,1255.5L673.5,1255.4L675.5,1255.1L677.5,1254.5L679.5,1253.7L681.5,1252.6L683.5,1251.3L685.5,1249.9L687.5,1248.2L689.5,1246.4L691.5,1244.4L693.5,1242.3L695.5,1240.1L697.5,1237.7L699.5,1235.3L701.5,1232.7L703.5,1230.1L705.5,1227.5L707.5,1224.8L709.5,1222.1L711.5,1219.3L713.5,1216.6L715.5,1213.9L717.5,1211.2L719.5,1208.6L721.5,1206.0L723.5,1203.5L725.5,1201.1L727.5,1198.8L729.5,1196.6L731.5,1194.5L733.5,1192.5L735.5,1190.5L737.5,1188.7L739.5,1186.9L741.5,1185.2L743.5,1183.6L745.5,1182.1L747.5,1180.7L749.5,1179.3L751.5,1178.0L753.5,1176.8L755.5,1175.6L757.5,1174.5L759.5,1173.4L761.5,1172.4L763.5,1171.5L765.5,1170.6L767.5,1169.8L769.5,1169.0L771.5,1168.3L773.5,1167.6L775.5,1166.9L777.5,1166.3L779.5,1165.7L781.5,1165.2L783.5,1164.7L785.5,1164.2L787.5,1163.8L789.5,1163.4L791.5,1163.0L793.5,1162.7L795.5,1162.5L797.5,1162.2L799.5,1162.0L801.5,1161.9L803.5,1161.8L805.5,1161.7L807.5,1161.7L809.5,1161.8L811.5,1161.9L813.5,1162.0L815.5,1162.2L817.5,1162.4L819.5,1162.7L821.5,1163.0L823.5,1163.3L825.5,1163.8L827.5,1164.2L829.5,1164.8L831.5,1165.3L833.5,1166.0L835.5,1166.6L837.5,1167.3L839.5,1168.1L841.5,1168.9L843.5,1169.7L845.5,1170.5L847.5,1171.3L849.5,1172.1L851.5,1173.0L853.5,1173.8L855.5,1174.7L857.5,1175.5L859.5,1176.3L861.5,1177.1L863.5,1177.8L865.5,1178.6L867.5,1179.3L869.5,1179.9L871.5,1180.5L873.5,1181.1L875.5,1181.6L877.5,1182.0L879.5,1182.4L881.5,1182.7L883.5,1182.9L885.5,1183.0L887.5,1183.1L889.5,1183.1L891.5,1183.0L893.5,1182.8L895.5,1182.6L897.5,1182.4L899.5,1182.1L901.5,1181.7L903.5,1181.3L905.5,1180.8L907.5,1180.3L909.5,1179.7L911.5,1179.2L913.5,1178.6L915.5,1177.9L917.5,1177.2L919.5,1176.6L921.5,1175.9L923.5,1175.1L925.5,1174.4L927.5,1173.7L929.5,1172.9L931.5,1172.2L933.5,1171.4L935.5,1170.7L937.5,1170.0L939.5,1169.3L941.5,1168.5L943.5,1167.8L945.5,1167.1L947.5,1166.5L949.5,1165.8L951.5,1165.1L953.5,1164.5L955.5,1163.8L957.5,1163.2L959.5,1162.5L961.5,1161.9L963.5,1161.3L965.5,1160.7L967.5,1160.1L969.5,1159.5L971.5,1158.9L973.5,1158.4L975.5,1157.8L977.5,1157.3L979.5,1156.7L981.5,1156.2L983.5,1155.7L985.5,1155.2L987.5,1154.6L989.5,1154.2L991.5,1153.7L993.5,1153.2L995.5,1152.7L997.5,1152.2L999.5,1151.7L1001.5,1151.2L1003.5,1150.7L1005.5,1150.2L1007.5,1149.6L1009.5,1149.0L1011.5,1148.4L1013.5,1147.8L1015.5,1147.2L1017.5,1146.5L1019.5,1145.7L1021.5,1145.0L1023.5,1144.1L1025.5,1143.3L1027.5,1142.4L1029.5,1141.4L1031.5,1140.4L1033.5,1139.3L1035.5,1138.1L1037.5,1136.9L1039.5,1135.6L1041.5,1134.2L1043.5,1132.8L1045.5,1131.3L1047.5,1129.7L1049.5,1128.1L1051.5,1126.5L1053.5,1124.8L1055.5,1123.2L1057.5,1121.5L1059.5,1119.8L1061.5,1118.1L1063.5,1116.5L1065.5,1114.8L1067.5,1113.3L1069.5,1111.7L1071.5,1110.2L1073.5,1108.8L1075.5,1107.5L1077.5,1106.2L1079.5,1105.0L1081.5,1103.9L1083.5,1103.0L1085.5,1102.1L1087.5,1101.4L1089.5,1100.8L1091.5,1100.4L1093.5,1100.1L1095.5,1100.0L1097.5,1100.0L1099.5,1100.2L1101.5,1100.5L1103.5,1100.9L1105.5,1101.4L1107.5,1102.0L1109.5,1102.7L1111.5,1103.5L1113.5,1104.4L1115.5,1105.3L1117.5,1106.2L1119.5,1107.2L1121.5,1108.2L1123.5,1109.2L1125.5,1110.2L1127.5,1111.3L1129.5,1112.2L1131.5,1113.2L1133.5,1114.1L1135.5,1115.0L1137.5,1115.8L1139.5,1116.6L1141.5,1117.2L1143.5,1117.8L1145.5,1118.2L1147.5,1118.6L1149.5,1118.8L1151.5,1118.9L1153.5,1118.9L1155.5,1118.8L1157.5,1118.7L1159.5,1118.4L1161.5,1118.0L1163.5,1117.6L1165.5,1117.1L1167.5,1116.5L1169.5,1115.8L1171.5,1115.1L1173.5,1114.3L1175.5,1113.5L1177.5,1112.6L1179.5,1111.6L1181.5,1110.7L1183.5,1109.6L1185.5,1108.6L1187.5,1107.5L1189.5,1106.4L1191.5,1105.3L1193.5,1104.2L1195.5,1103.0L1197.5,1101.9L1199.5,1100.7L1201.5,1099.6L1203.5,1098.4L1205.5,1097.3L1207.5,1096.1L1209.5,1095.0L1211.5,1093.9L1213.5,1092.8L1215.5,1091.7L1217.5,1090.7L1219.5,1089.6L1221.5,1088.6L1223.5,1087.6L1225.5,1086.7L1227.5,1085.8L1229.5,1084.9L1231.5,1084.0L1233.5,1083.2L1235.5,1082.4L1237.5,1081.7L1239.5,1081.0L1241.5,1080.3L1243.5,1079.7L1245.5,1079.2L1247.5,1078.7L1249.5,1078.2L1251.5,1077.8L1253.5,1077.5L1255.5,1077.3L1257.5,1077.0L1259.5,1076.9L1261.5,1076.8L1263.5,1076.8L1265.5,1076.8L1267.5,1076.9L1269.5,1077.1L1271.5,1077.3L1273.5,1077.6L1275.5,1078.0L1277.5,1078.4L1279.5,1078.9L1281.5,1079.5L1283.5,1080.1L1285.5,1080.8L1287.5,1081.5L1289.5,1082.3L1291.5,1083.2L1293.5,1084.2L1295.5,1085.2L1297.5,1086.3L1299.5,1087.5L1301.5,1088.8L1303.5,1090.1L1305.5,1091.5L1307.5,1092.9L1309.5,1094.4L1311.5,1096.0L1313.5,1097.5L1315.5,1099.1L1317.5,1100.6L1319.5,1102.1L1321.5,1103.6L1323.5,1105.0L1325.5,1106.4L1327.5,1107.6L1329.5,1108.8L1331.5,1109.9L1333.5,1110.8L1335.5,1111.7L1337.5,1112.3L1339.5,1112.8L1341.5,1113.1L1343.5,1113.3L1345.5,1113.2L1347.5,1112.9L1349.5,1112.4L1351.5,1111.6L1353.5,1110.5L1355.5,1109.2L1357.5,1107.6L1359.5,1105.7L1361.5,1103.5L1363.5,1101.1L1365.5,1098.4L1367.5,1095.6L1369.5,1092.5L1371.5,1089.2L1373.5,1085.7L1375.5,1082.1L1377.5,1078.4L1379.5,1074.5L1381.5,1070.5L1383.5,1066.5L1385.5,1062.3L1387.5,1058.1L1389.5,1053.8L1391.5,1049.5L1393.5,1045.1L1395.5,1040.6L1397.5,1036.1L1399.5,1031.5L1401.5,1026.8L1403.5,1022.1L1405.5,1017.3L1407.5,1012.5L1409.5,1009.1" fill="none" stroke="#000" stroke-width="5" stroke-linejoin="round"/>
<path d="M199.5,1089.6L201.5,1091.3L203.5,1092.9L205.5,1094.5L207.5,1096.1L209.5,1097.8L211.5,1099.4L213.5,1101.0L215.5,1102.6L217.5,1104.2L219.5,1105.8L221.5,1107.4L223.5,1108.9L225.5,1110.5L227.5,1112.0L229.5,1113.5L231.5,1115.0L233.5,1116.5L235.5,1118.0L237.5,1119.4L239.5,1120.9L241.5,1122.3L243.5,1123.6L245.5,1125.0L247.5,1126.3L249.5,1127.7L251.5,1128.9L253.5,1130.2L255.5,1131.4L257.5,1132.7L259.5,1133.9L261.5,1135.0L263.5,1136.2L265.5,1137.4L267.5,1138.6L269.5,1139.7L271.5,1140.9L273.5,1142.1L275.5,1143.2L277.5,1144.4L279.5,1145.6L281.5,1146.7L283.5,1147.8L285.5,1149.0L287.5,1150.2L289.5,1151.6L291.5,1152.9L293.5,1154.4L295.5,1155.8L297.5,1157.4L299.5,1159.0L301.5,1160.7L303.5,1162.5L305.5,1164.2L307.5,1165.9L309.5,1167.7L311.5,1169.6L313.5,1171.5L315.5,1173.5L317.5,1175.4L319.5,1177.5L321.5,1179.5L323.5,1181.6L325.5,1183.8L327.5,1185.9L329.5,1188.1L331.5,1190.1L333.5,1192.0L335.5,1193.8L337.5,1195.5L339.5,1197.2L341.5,1198.9L343.5,1200.5L345.5,1202.1L347.5,1203.7L349.5,1205.3L351.5,1206.9L353.5,1208.4L355.5,1209.9L357.5,1211.0L359.5,1211.2L361.5,1211.1L363.5,1210.8L365.5,1210.3L367.5,1209.6L369.5,1208.8L371.5,1207.8L373.5,1206.8L375.5,1205.6L377.5,1204.4L379.5,1203.2L381.5,1202.0L383.5,1200.8L385.5,1199.7L387.5,1198.6L389.5,1197.5L391.5,1196.5L393.5,1195.6L395.5,1194.7L397.5,1193.9L399.5,1193.1L401.5,1192.4L403.5,1191.7L405.5,1191.1L407.5,1190.6L409.5,1190.2L411.5,1189.8L413.5,1189.5L415.5,1189.2L417.5,1189.1L419.5,1189.0L421.5,1188.9L423.5,1188.9L425.5,1189.0L427.5,1189.2L429.5,1189.4L431.5,1189.7L433.5,1190.1L435.5,1190.5L437.5,1191.0L439.5,1191.6L441.5,1192.2L443.5,1192.9L445.5,1193.6L447.5,1194.4L449.5,1195.3L451.5,1196.3L453.5,1197.3L455.5,1198.3L457.5,1199.5L459.5,1200.6L461.5,1201.9L463.5,1203.2L465.5,1204.6L467.5,1206.0L469.5,1207.4L471.5,1208.8L473.5,1210.3L475.5,1211.7L477.5,1213.1L479.5,1214.5L481.5,1215.9L483.5,1217.2L485.5,1218.4L487.5,1219.6L489.5,1220.7L491.5,1221.6L493.5,1222.5L495.5,1223.3L497.5,1223.9L499.5,1224.3L501.5,1224.6L503.5,1224.8L505.5,1224.7L507.5,1224.5L509.5,1224.1L511.5,1223.4L513.5,1222.5L515.5,1221.4L517.5,1220.1L519.5,1218.5L521.5,1216.7L523.5,1214.8L525.5,1212.7L527.5,1210.4L529.5,1208.1L531.5,1205.6L533.5,1203.0L535.5,1200.4L537.5,1197.7L539.5,1194.9L541.5,1192.2L543.5,1189.4L545.5,1186.7L547.5,1184.0L549.5,1181.4L551.5,1178.8L553.5,1176.4L555.5,1174.0L557.5,1171.8L559.5,1169.8L561.5,1167.9L563.5,1166.1L565.5,1164.6L567.5,1163.3L569.5,1162.3L571.5,1161.4L573.5,1160.8L575.5,1160.4L577.5,1160.1L579.5,1160.0L581.5,1160.1L583.5,1160.5L585.5,1161.2L587.5,1162.1L589.5,1163.3L591.5,1164.8L593.5,1166.4L595.5,1168.3L597.5,1170.3L599.5,1172.5L601.5,1174.8L603.5,1177.2L605.5,1179.7L607.5,1182.3L609.5,1184.9L611.5,1187.5L613.5,1190.2L615.5,1193.0L617.5,1195.8L619.5,1198.6L621.5,1201.5L623.5,1204.5L625.5,1207.5L627.5,1210.4L629.5,1213.4L631.5,1216.4L633.5,1219.4L635.5,1222.4L637.5,1225.3L639.5,1228.1L641.5,1230.9L643.5,1233.6L645.5,1236.2L647.5,1238.6L649.5,1241.0L651.5,1243.2L653.5,1245.3L655.5,1247.3L657.5,1249.0L659.5,1250.6L661.5,1252.0L663.5,1253.1L665.5,1254.1L667.5,1254.8L669.5,1255.3L671.5,1255.5L673.5,1255.4L675.5,1255.1L677.5,1254.5L679.5,1253.7L681.5,1252.6L683.5,1251.3L685.5,1249.9L687.5,1248.2L689.5,1246.4L691.5,1244.4L693.5,1242.3L695.5,1240.1L697.5,1237.7L699.5,1235.3L701.5,1232.7L703.5,1230.1L705.5,1227.5L707.5,1224.8L709.5,1222.1L711.5,1219.3L713.5,1216.6L715.5,1213.9L717.5,1211.2L719.5,1208.6L721.5,1206.0L723.5,1203.5L725.5,1201.1L727.5,1198.8L729.5,1196.6L731.5,1194.5L733.5,1192.5L735.5,1190.5L737.5,1188.7L739.5,1186.9L741.5,1185.2L743.5,1183.6L745.5,1182.1L747.5,1180.7L749.5,1179.3L751.5,1178.0L753.5,1176.8L755.5,1175.6L757.5,1174.5L759.5,1173.4L761.5,1172.4L763.5,1171.5L765.5,1170.6L767.5,1169.8L769.5,1169.0L771.5,1168.3L773.5,1167.6L775.5,1166.9L777.5,1166.3L779.5,1165.7L781.5,1165.2L783.5,1164.7L785.5,1164.2L787.5,1163.8L789.5,1163.4L791.5,1163.0L793.5,1162.7L795.5,1162.5L797.5,1162.2L799.5,1162.0L801.5,1161.9L803.5,1161.8L805.5,1161.7L807.5,1161.7L809.5,1161.8L811.5,1161.9L813.5,1162.0L815.5,1162.2L817.5,1162.4L819.5,1162.7L821.5,1163.0L823.5,1163.3L825.5,1163.8L827.5,1164.2L829.5,1164.8L831.5,1165.3L833.5,1166.0L835.5,1166.6L837.5,1167.3L839.5,1168.1L841.5,1168.9L843.5,1169.7L845.5,1170.5L847.5,1171.3L849.5,1172.1L851.5,1173.0L853.5,1173.8L855.5,1174.7L857.5,1175.5L859.5,1176.3L861.5,1177.1L863.5,1177.8L865.5,1178.6L867.5,1179.3L869.5,1179.9L871.5,1180.5L873.5,1181.1L875.5,1181.6L877.5,1182.0L879.5,1182.4L881.5,1182.7L883.5,1182.9L885.5,1183.0L887.5,1183.1L889.5,1183.1L891.5,1183.0L893.5,1182.8L895.5,1182.6L897.5,1182.4L899.5,1182.1L901.5,1181.7L903.5,1181.3L905.5,1180.8L907.5,1180.3L909.5,1179.7L911.5,1179.2L913.5,1178.6L915.5,1177.9L917.5,1177.2L919.5,1176.6L921.5,1175.9L923.5,1175.1L925.5,1174.4L927.5,1173.7L929.5,1172.9L931.5,1172.2L933.5,1171.4L935.5,1170.7L937.5,1170.0L939.5,1169.3L941.5,1168.5L943.5,1167.8L945.5,1167.1L947.5,1166.5L949.5,1165.8L951.5,1165.1L953.5,1164.5L955.5,1163.8L957.5,1163.2L959.5,1162.5L961.5,1161.9L963.5,1161.3L965.5,1160.7L967.5,1160.1L969.5,1159.5L971.5,1158.9L973.5,1158.4L975.5,1157.8L977.5,1157.3L979.5,1156.7L981.5,1156.2L983.5,1155.7L985.5,1155.2L987.5,1154.6L989.5,1154.2L991.5,1153.7L993.5,1153.2L995.5,1152.7L997.5,1152.2L999.5,1151.7L1001.5,1151.2L1003.5,1150.7L1005.5,1150.2L1007.5,1149.6L1009.5,1149.0L1011.5,1148.4L1013.5,1147.8L1015.5,1147.2L1017.5,1146.5L1019.5,1145.7L1021.5,1145.0L1023.5,1144.1L1025.5,1143.3L1027.5,1142.4L1029.5,1141.4L1031.5,1140.4L1033.5,1139.3L1035.5,1138.1L1037.5,1136.9L1039.5,1135.6L1041.5,1134.2L1043.5,1132.8L1045.5,1131.3L1047.5,1129.7L1049.5,1128.1L1051.5,1126.5L1053.5,1124.8L1055.5,1123.2L1057.5,1121.5L1059.5,1119.8L1061.5,1118.1L1063.5,1116.5L1065.5,1114.8L1067.5,1113.3L1069.5,1111.7L1071.5,1110.2L1073.5,1108.8L1075.5,1107.5L1077.5,1106.2L1079.5,1105.0L1081.5,1103.9L1083.5,1103.0L1085.5,1102.1L1087.5,1101.4L1089.5,1100.8L1091.5,1100.4L1093.5,1100.1L1095.5,1100.0L1097.5,1100.0L1099.5,1100.2L1101.5,1100.5L1103.5,1100.9L1105.5,1101.4L1107.5,1102.0L1109.5,1102.7L1111.5,1103.5L1113.5,1104.4L1115.5,1105.3L1117.5,1106.2L1119.5,1107.2L1121.5,1108.2L1123.5,1109.2L1125.5,1110.2L1127.5,1111.3L1129.5,1112.2L1131.5,1113.2L1133.5,1114.1L1135.5,1115.0L1137.5,1115.8L1139.5,1116.6L1141.5,1117.2L1143.5,1117.8L1145.5,1118.2L1147.5,1118.6L1149.5,1118.8L1151.5,1118.9L1153.5,1118.9L1155.5,1118.8L1157.5,1118.7L1159.5,1118.4L1161.5,1118.0L1163.5,1117.6L1165.5,1117.1L1167.5,1116.5L1169.5,1115.8L1171.5,1115.1L1173.5,1114.3L1175.5,1113.5L1177.5,1112.6L1179.5,1111.6L1181.5,1110.7L1183.5,1109.6L1185.5,1108.6L1187.5,1107.5L1189.5,1106.4L1191.5,1105.3L1193.5,1104.2L1195.5,1103.0L1197.5,1101.9L1199.5,1100.7L1201.5,1099.6L1203.5,1098.4L1205.5,1097.3L1207.5,1096.1L1209.5,1095.0L1211.5,1093.9L1213.5,1092.8L1215.5,1091.7L1217.5,1090.7L1219.5,1089.6L1221.5,1088.6L1223.5,1087.6L1225.5,1086.7L1227.5,1085.8L1229.5,1084.9L1231.5,1084.0L1233.5,1083.2L1235.5,1082.4L1237.5,1081.7L1239.5,1081.0L1241.5,1080.3L1243.5,1079.7L1245.5,1079.2L1247.5,1078.7L1249.5,1078.2L1251.5,1077.8L1253.5,1077.5L1255.5,1077.3L1257.5,1077.0L1259.5,1076.9L1261.5,1076.8L1263.5,1076.8L1265.5,1076.8L1267.5,1076.9L1269.5,1077.1L1271.5,1077.3L1273.5,1077.6L1275.5,1078.0L1277.5,1078.4L1279.5,1078.9L1281.5,1079.5L1283.5,1080.1L1285.5,1080.8L1287.5,1081.5L1289.5,1082.3L1291.5,1083.2L1293.5,1084.2L1295.5,1085.2L1297.5,1086.3L1299.5,1087.5L1301.5,1088.8L1303.5,1090.1L1305.5,1091.6L1307.5,1093.1L1309.5,1094.7L1311.5,1096.4L1313.5,1098.1L1315.5,1099.9L1317.5,1101.6L1319.5,1103.4L1321.5,1105.3L1323.5,1107.1L1325.5,1108.9L1327.5,1110.7L1329.5,1112.5L1331.5,1114.3L1333.5,1116.0L1335.5,1117.6L1337.5,1119.3L1339.5,1120.8L1341.5,1122.3L1343.5,1123.7L1345.5,1125.0L1347.5,1126.2L1349.5,1127.3L1351.5,1128.2L1353.5,1129.1L1355.5,1129.8L1357.5,1130.4L1359.5,1130.8L1361.5,1131.1L1363.5,1131.3L1365.5,1131.4L1367.5,1131.3L1369.5,1131.2L1371.5,1131.1L1373.5,1130.8L1375.5,1130.5L1377.5,1130.1L1379.5,1129.8L1381.5,1129.4L1383.5,1128.9L1385.5,1128.5L1387.5,1128.1L1389.5,1127.6L1391.5,1127.2L1393.5,1126.7L1395.5,1126.3L1397.5,1125.8L1399.5,1125.2L1401.5,1124.7L1403.5,1124.1L1405.5,1123.4L1407.5,1122.7L1409.5,1122.2L1409.5,1358.3L199.5,1358.3Z" fill="#fa6400" stroke="#000" stroke-width="7" stroke-linejoin="round"/><path class="aa" d="M199.5,1089.6L201.5,1091.3L203.5,1092.9L205.5,1094.5L207.5,1096.1L209.5,1097.8L211.5,1099.4L213.5,1101.0L215.5,1102.6L217.5,1104.2L219.5,1105.8L221.5,1107.4L223.5,1108.9L225.5,1110.5L227.5,1112.0L229.5,1113.5L231.5,1115.0L233.5,1116.5L235.5,1118.0L237.5,1119.4L239.5,1120.9L241.5,1122.3L243.5,1123.6L245.5,1125.0L247.5,1126.3L249.5,1127.7L251.5,1128.9L253.5,1130.2L255.5,1131.4L257.5,1132.7L259.5,1133.9L261.5,1135.0L263.5,1136.2L265.5,1137.4L267.5,1138.6L269.5,1139.7L271.5,1140.9L273.5,1142.1L275.5,1143.2L277.5,1144.4L279.5,1145.6L281.5,1146.7L283.5,1147.8L285.5,1149.0L287.5,1150.2L289.5,1151.6L291.5,1152.9L293.5,1154.4L295.5,1155.8L297.5,1157.4L299.5,1159.0L301.5,1160.7L303.5,1162.5L305.5,1164.2L307.5,1165.9L309.5,1167.7L311.5,1169.6L313.5,1171.5L315.5,1173.5L317.5,1175.4L319.5,1177.5L321.5,1179.5L323.5,1181.6L325.5,1183.8L327.5,1185.9L329.5,1188.1L331.5,1190.1L333.5,1192.0L335.5,1193.8L337.5,1195.5L339.5,1197.2L341.5,1198.9L343.5,1200.5L345.5,1202.1L347.5,1203.7L349.5,1205.3L351.5,1206.9L353.5,1208.4L355.5,1209.9L357.5,1211.0L359.5,1211.2L361.5,1211.1L363.5,1210.8L365.5,1210.3L367.5,1209.6L369.5,1208.8L371.5,1207.8L373.5,1206.8L375.5,1205.6L377.5,1204.4L379.5,1203.2L381.5,1202.0L383.5,1200.8L385.5,1199.7L387.5,1198.6L389.5,1197.5L391.5,1196.5L393.5,1195.6L395.5,1194.7L397.5,1193.9L399.5,1193.1L401.5,1192.4L403.5,1191.7L405.5,1191.1L407.5,1190.6L409.5,1190.2L411.5,1189.8L413.5,1189.5L415.5,1189.2L417.5,1189.1L419.5,1189.0L421.5,1188.9L423.5,1188.9L425.5,1189.0L427.5,1189.2L429.5,1189.4L431.5,1189.7L433.5,1190.1L435.5,1190.5L437.5,1191.0L439.5,1191.6L441.5,1192.2L443.5,1192.9L445.5,1193.6L447.5,1194.4L449.5,1195.3L451.5,1196.3L453.5,1197.3L455.5,1198.3L457.5,1199.5L459.5,1200.6L461.5,1201.9L463.5,1203.2L465.5,1204.6L467.5,1206.0L469.5,1207.4L471.5,1208.8L473.5,1210.3L475.5,1211.7L477.5,1213.1L479.5,1214.5L481.5,1215.9L483.5,1217.2L485.5,1218.4L487.5,1219.6L489.5,1220.7L491.5,1221.6L493.5,1222.5L495.5,1223.3L497.5,1223.9L499.5,1224.3L501.5,1224.6L503.5,1224.8L505.5,1224.7L507.5,1224.5L509.5,1224.1L511.5,1223.4L513.5,1222.5L515.5,1221.4L517.5,1220.1L519.5,1218.5L521.5,1216.7L523.5,1214.8L525.5,1212.7L527.5,1210.4L529.5,1208.1L531.5,1205.6L533.5,1203.0L535.5,1200.4L537.5,1197.7L539.5,1194.9L541.5,1192.2L543.5,1189.4L545.5,1186.7L547.5,1184.0L549.5,1181.4L551.5,1178.8L553.5,1176.4L555.5,1174.0L557.5,1171.8L559.5,1169.8L561.5,1167.9L563.5,1166.1L565.5,1164.6L567.5,1163.3L569.5,1162.3L571.5,1161.4L573.5,1160.8L575.5,1160.4L577.5,1160.1L579.5,1160.0L581.5,1160.1L583.5,1160.5L585.5,1161.2L587.5,1162.1L589.5,1163.3L591.5,1164.8L593.5,1166.4L595.5,1168.3L597.5,1170.3L599.5,1172.5L601.5,1174.8L603.5,1177.2L605.5,1179.7L607.5,1182.3L609.5,1184.9L611.5,1187.5L613.5,1190.2L615.5,1193.0L617.5,1195.8L619.5,1198.6L621.5,1201.5L623.5,1204.5L625.5,1207.5L627.5,1210.4L629.5,1213.4L631.5,1216.4L633.5,1219.4L635.5,1222.4L637.5,1225.3L639.5,1228.1L641.5,1230.9L643.5,1233.6L645.5,1236.2L647.5,1238.6L649.5,1241.0L651.5,1243.2L653.5,1245.3L655.5,1247.3L657.5,1249.0L659.5,1250.6L661.5,1252.0L663.5,1253.1L665.5,1254.1L667.5,1254.8L669.5,1255.3L671.5,1255.5L673.5,1255.4L675.5,1255.1L677.5,1254.5L679.5,1253.7L681.5,1252.6L683.5,1251.3L685.5,1249.9L687.5,1248.2L689.5,1246.4L691.5,1244.4L693.5,1242.3L695.5,1240.1L697.5,1237.7L699.5,1235.3L701.5,1232.7L703.5,1230.1L705.5,1227.5L707.5,1224.8L709.5,1222.1L711.5,1219.3L713.5,1216.6L715.5,1213.9L717.5,1211.2L719.5,1208.6L721.5,1206.0L723.5,1203.5L725.5,1201.1L727.5,1198.8L729.5,1196.6L731.5,1194.5L733.5,1192.5L735.5,1190.5L737.5,1188.7L739.5,1186.9L741.5,1185.2L743.5,1183.6L745.5,1182.1L747.5,1180.7L749.5,1179.3L751.5,1178.0L753.5,1176.8L755.5,1175.6L757.5,1174.5L759.5,1173.4L761.5,1172.4L763.5,1171.5L765.5,1170.6L767.5,1169.8L769.5,1169.0L771.5,1168.3L773.5,1167.6L775.5,1166.9L777.5,1166.3L779.5,1165.7L781.5,1165.2L783.5,1164.7L785.5,1164.2L787.5,1163.8L789.5,1163.4L791.5,1163.0L793.5,1162.7L795.5,1162.5L797.5,1162.2L799.5,1162.0L801.5,1161.9L803.5,1161.8L805.5,1161.7L807.5,1161.7L809.5,1161.8L811.5,1161.9L813.5,1162.0L815.5,1162.2L817.5,1162.4L819.5,1162.7L821.5,1163.0L823.5,1163.3L825.5,1163.8L827.5,1164.2L829.5,1164.8L831.5,1165.3L833.5,1166.0L835.5,1166.6L837.5,1167.3L839.5,1168.1L841.5,1168.9L843.5,1169.7L845.5,1170.5L847.5,1171.3L849.5,1172.1L851.5,1173.0L853.5,1173.8L855.5,1174.7L857.5,1175.5L859.5,1176.3L861.5,1177.1L863.5,1177.8L865.5,1178.6L867.5,1179.3L869.5,1179.9L871.5,1180.5L873.5,1181.1L875.5,1181.6L877.5,1182.0L879.5,1182.4L881.5,1182.7L883.5,1182.9L885.5,1183.0L887.5,1183.1L889.5,1183.1L891.5,1183.0L893.5,1182.8L895.5,1182.6L897.5,1182.4L899.5,1182.1L901.5,1181.7L903.5,1181.3L905.5,1180.8L907.5,1180.3L909.5,1179.7L911.5,1179.2L913.5,1178.6L915.5,1177.9L917.5,1177.2L919.5,1176.6L921.5,1175.9L923.5,1175.1L925.5,1174.4L927.5,1173.7L929.5,1172.9L931.5,1172.2L933.5,1171.4L935.5,1170.7L937.5,1170.0L939.5,1169.3L941.5,1168.5L943.5,1167.8L945.5,1167.1L947.5,1166.5L949.5,1165.8L951.5,1165.1L953.5,1164.5L955.5,1163.8L957.5,1163.2L959.5,1162.5L961.5,1161.9L963.5,1161.3L965.5,1160.7L967.5,1160.1L969.5,1159.5L971.5,1158.9L973.5,1158.4L975.5,1157.8L977.5,1157.3L979.5,1156.7L981.5,1156.2L983.5,1155.7L985.5,1155.2L987.5,1154.6L989.5,1154.2L991.5,1153.7L993.5,1153.2L995.5,1152.7L997.5,1152.2L999.5,1151.7L1001.5,1151.2L1003.5,1150.7L1005.5,1150.2L1007.5,1149.6L1009.5,1149.0L1011.5,1148.4L1013.5,1147.8L1015.5,1147.2L1017.5,1146.5L1019.5,1145.7L1021.5,1145.0L1023.5,1144.1L1025.5,1143.3L1027.5,1142.4L1029.5,1141.4L1031.5,1140.4L1033.5,1139.3L1035.5,1138.1L1037.5,1136.9L1039.5,1135.6L1041.5,1134.2L1043.5,1132.8L1045.5,1131.3L1047.5,1129.7L1049.5,1128.1L1051.5,1126.5L1053.5,1124.8L1055.5,1123.2L1057.5,1121.5L1059.5,1119.8L1061.5,1118.1L1063.5,1116.5L1065.5,1114.8L1067.5,1113.3L1069.5,1111.7L1071.5,1110.2L1073.5,1108.8L1075.5,1107.5L1077.5,1106.2L1079.5,1105.0L1081.5,1103.9L1083.5,1103.0L1085.5,1102.1L1087.5,1101.4L1089.5,1100.8L1091.5,1100.4L1093.5,1100.1L1095.5,1100.0L1097.5,1100.0L1099.5,1100.2L1101.5,1100.5L1103.5,1100.9L1105.5,1101.4L1107.5,1102.0L1109.5,1102.7L1111.5,1103.5L1113.5,1104.4L1115.5,1105.3L1117.5,1106.2L1119.5,1107.2L1121.5,1108.2L1123.5,1109.2L1125.5,1110.2L1127.5,1111.3L1129.5,1112.2L1131.5,1113.2L1133.5,1114.1L1135.5,1115.0L1137.5,1115.8L1139.5,1116.6L1141.5,1117.2L1143.5,1117.8L1145.5,1118.2L1147.5,1118.6L1149.5,1118.8L1151.5,1118.9L1153.5,1118.9L1155.5,1118.8L1157.5,1118.7L1159.5,1118.4L1161.5,1118.0L1163.5,1117.6L1165.5,1117.1L1167.5,1116.5L1169.5,1115.8L1171.5,1115.1L1173.5,1114.3L1175.5,1113.5L1177.5,1112.6L1179.5,1111.6L1181.5,1110.7L1183.5,1109.6L1185.5,1108.6L1187.5,1107.5L1189.5,1106.4L1191.5,1105.3L1193.5,1104.2L1195.5,1103.0L1197.5,1101.9L1199.5,1100.7L1201.5,1099.6L1203.5,1098.4L1205.5,1097.3L1207.5,1096.1L1209.5,1095.0L1211.5,1093.9L1213.5,1092.8L1215.5,1091.7L1217.5,1090.7L1219.5,1089.6L1221.5,1088.6L1223.5,1087.6L1225.5,1086.7L1227.5,1085.8L1229.5,1084.9L1231.5,1084.0L1233.5,1083.2L1235.5,1082.4L1237.5,1081.7L1239.5,1081.0L1241.5,1080.3L1243.5,1079.7L1245.5,1079.2L1247.5,1078.7L1249.5,1078.2L1251.5,1077.8L1253.5,1077.5L1255.5,1077.3L1257.5,1077.0L1259.5,1076.9L1261.5,1076.8L1263.5,1076.8L1265.5,1076.8L1267.5,1076.9L1269.5,1077.1L1271.5,1077.3L1273.5,1077.6L1275.5,1078.0L1277.5,1078.4L1279.5,1078.9L1281.5,1079.5L1283.5,1080.1L1285.5,1080.8L1287.5,1081.5L1289.5,1082.3L1291.5,1083.2L1293.5,1084.2L1295.5,1085.2L1297.5,1086.3L1299.5,1087.5L1301.5,1088.8L1303.5,1090.1L1305.5,1091.6L1307.5,1093.1L1309.5,1094.7L1311.5,1096.4L1313.5,1098.1L1315.5,1099.9L1317.5,1101.6L1319.5,1103.4L1321.5,1105.3L1323.5,1107.1L1325.5,1108.9L1327.5,1110.7L1329.5,1112.5L1331.5,1114.3L1333.5,1116.0L1335.5,1117.6L1337.5,1119.3L1339.5,1120.8L1341.5,1122.3L1343.5,1123.7L1345.5,1125.0L1347.5,1126.2L1349.5,1127.3L1351.5,1128.2L1353.5,1129.1L1355.5,1129.8L1357.5,1130.4L1359.5,1130.8L1361.5,1131.1L1363.5,1131.3L1365.5,1131.4L1367.5,1131.3L1369.5,1131.2L1371.5,1131.1L1373.5,1130.8L1375.5,1130.5L1377.5,1130.1L1379.5,1129.8L1381.5,1129.4L1383.5,1128.9L1385.5,1128.5L1387.5,1128.1L1389.5,1127.6L1391.5,1127.2L1393.5,1126.7L1395.5,1126.3L1397.5,1125.8L1399.5,1125.2L1401.5,1124.7L1403.5,1124.1L1405.5,1123.4L1407.5,1122.7L1409.5,1122.2" fill="none" stroke="#000" stroke-width="5" stroke-linejoin="round"/>
<path d="M199.5,1132.4L201.5,1132.4L203.5,1132.3L205.5,1132.3L207.5,1132.3L209.5,1132.3L211.5,1132.2L213.5,1132.2L215.5,1132.2L217.5,1132.3L219.5,1132.3L221.5,1132.3L223.5,1132.4L225.5,1132.4L227.5,1132.5L229.5,1132.6L231.5,1132.8L233.5,1132.9L235.5,1133.1L237.5,1133.3L239.5,1133.5L241.5,1133.8L243.5,1134.0L245.5,1134.3L247.5,1134.7L249.5,1135.1L251.5,1135.5L253.5,1135.9L255.5,1136.4L257.5,1136.9L259.5,1137.5L261.5,1138.1L263.5,1138.7L265.5,1139.4L267.5,1140.2L269.5,1140.9L271.5,1141.8L273.5,1142.7L275.5,1143.6L277.5,1144.6L279.5,1145.6L281.5,1146.7L283.5,1147.8L285.5,1149.0L287.5,1150.2L289.5,1151.6L291.5,1152.9L293.5,1154.4L295.5,1155.8L297.5,1157.4L299.5,1159.0L301.5,1160.7L303.5,1162.5L305.5,1164.3L307.5,1166.1L309.5,1168.1L311.5,1170.1L313.5,1172.1L315.5,1174.1L317.5,1176.1L319.5,1178.2L321.5,1180.3L323.5,1182.3L325.5,1184.3L327.5,1186.3L329.5,1188.2L331.5,1190.1L333.5,1192.0L335.5,1193.8L337.5,1195.5L339.5,1197.2L341.5,1198.9L343.5,1200.5L345.5,1202.1L347.5,1203.7L349.5,1205.3L351.5,1206.9L353.5,1208.4L355.5,1209.9L357.5,1211.5L359.5,1213.0L361.5,1214.5L363.5,1216.0L365.5,1217.4L367.5,1218.8L369.5,1220.1L371.5,1221.3L373.5,1222.4L375.5,1223.4L377.5,1224.3L379.5,1225.1L381.5,1225.7L383.5,1226.2L385.5,1226.5L387.5,1226.7L389.5,1226.7L391.5,1226.5L393.5,1226.3L395.5,1226.0L397.5,1225.5L399.5,1225.0L401.5,1224.4L403.5,1223.8L405.5,1223.1L407.5,1222.4L409.5,1221.7L411.5,1221.0L413.5,1220.2L415.5,1219.5L417.5,1218.8L419.5,1218.1L421.5,1217.5L423.5,1216.9L425.5,1216.4L427.5,1215.9L429.5,1215.5L431.5,1215.2L433.5,1215.0L435.5,1214.8L437.5,1214.8L439.5,1214.9L441.5,1215.1L443.5,1215.4L445.5,1215.9L447.5,1216.5L449.5,1217.3L451.5,1218.2L453.5,1219.3L455.5,1220.6L457.5,1222.1L459.5,1223.8L461.5,1225.7L463.5,1227.8L465.5,1230.1L467.5,1232.5L469.5,1235.2L471.5,1237.9L473.5,1240.7L475.5,1243.6L477.5,1246.6L479.5,1249.6L481.5,1252.5L483.5,1255.4L485.5,1258.3L487.5,1261.1L489.5,1263.7L491.5,1266.3L493.5,1268.6L495.5,1270.8L497.5,1272.8L499.5,1274.5L501.5,1275.9L503.5,1277.1L505.5,1277.9L507.5,1278.4L509.5,1278.5L511.5,1278.3L513.5,1277.6L515.5,1276.4L517.5,1274.8L519.5,1272.8L521.5,1270.5L523.5,1267.7L525.5,1264.6L527.5,1261.3L529.5,1257.6L531.5,1253.8L533.5,1249.7L535.5,1245.4L537.5,1241.0L539.5,1236.5L541.5,1231.9L543.5,1227.2L545.5,1222.5L547.5,1217.8L549.5,1213.2L551.5,1208.6L553.5,1204.1L555.5,1199.7L557.5,1195.5L559.5,1191.5L561.5,1187.6L563.5,1184.1L565.5,1180.8L567.5,1177.7L569.5,1175.1L571.5,1172.7L573.5,1170.7L575.5,1169.1L577.5,1167.8L579.5,1166.8L581.5,1166.2L583.5,1166.0L585.5,1166.1L587.5,1166.6L589.5,1167.4L591.5,1168.5L593.5,1169.8L595.5,1171.3L597.5,1173.0L599.5,1174.9L601.5,1176.9L603.5,1179.0L605.5,1181.2L607.5,1183.4L609.5,1185.8L611.5,1188.2L613.5,1190.7L615.5,1193.3L617.5,1195.9L619.5,1198.6L621.5,1201.5L623.5,1204.5L625.5,1207.5L627.5,1210.4L629.5,1213.4L631.5,1216.4L633.5,1219.4L635.5,1222.4L637.5,1225.3L639.5,1228.1L641.5,1230.9L643.5,1233.6L645.5,1236.2L647.5,1238.6L649.5,1241.0L651.5,1243.2L653.5,1245.3L655.5,1247.3L657.5,1249.0L659.5,1250.6L661.5,1252.0L663.5,1253.1L665.5,1254.1L667.5,1254.8L669.5,1255.3L671.5,1255.5L673.5,1255.4L675.5,1255.1L677.5,1254.5L679.5,1253.7L681.5,1252.6L683.5,1251.3L685.5,1249.9L687.5,1248.2L689.5,1246.4L691.5,1244.4L693.5,1242.3L695.5,1240.1L697.5,1237.7L699.5,1235.3L701.5,1232.7L703.5,1230.1L705.5,1227.5L707.5,1224.8L709.5,1222.1L711.5,1219.3L713.5,1216.6L715.5,1213.9L717.5,1211.2L719.5,1208.6L721.5,1206.0L723.5,1203.5L725.5,1201.1L727.5,1198.8L729.5,1196.6L731.5,1194.5L733.5,1192.5L735.5,1190.5L737.5,1188.7L739.5,1186.9L741.5,1185.2L743.5,1183.6L745.5,1182.1L747.5,1180.7L749.5,1179.3L751.5,1178.0L753.5,1176.8L755.5,1175.6L757.5,1174.5L759.5,1173.4L761.5,1172.4L763.5,1171.5L765.5,1170.6L767.5,1169.8L769.5,1169.0L771.5,1168.3L773.5,1167.6L775.5,1166.9L777.5,1166.3L779.5,1165.7L781.5,1165.2L783.5,1164.7L785.5,1164.2L787.5,1163.8L789.5,1163.4L791.5,1163.0L793.5,1162.7L795.5,1162.5L797.5,1162.2L799.5,1162.0L801.5,1161.9L803.5,1161.8L805.5,1161.7L807.5,1161.7L809.5,1161.8L811.5,1161.9L813.5,1162.0L815.5,1162.2L817.5,1162.4L819.5,1162.7L821.5,1163.0L823.5,1163.3L825.5,1163.8L827.5,1164.2L829.5,1164.8L831.5,1165.3L833.5,1166.0L835.5,1166.6L837.5,1167.3L839.5,1168.1L841.5,1168.9L843.5,1169.7L845.5,1170.5L847.5,1171.3L849.5,1172.1L851.5,1173.0L853.5,1173.8L855.5,1174.7L857.5,1175.5L859.5,1176.3L861.5,1177.1L863.5,1177.8L865.5,1178.6L867.5,1179.3L869.5,1179.9L871.5,1180.5L873.5,1181.1L875.5,1181.6L877.5,1182.0L879.5,1182.4L881.5,1182.7L883.5,1182.9L885.5,1183.0L887.5,1183.1L889.5,1183.1L891.5,1183.0L893.5,1182.8L895.5,1182.6L897.5,1182.4L899.5,1182.1L901.5,1181.7L903.5,1181.3L905.5,1180.8L907.5,1180.3L909.5,1179.7L911.5,1179.2L913.5,1178.6L915.5,1177.9L917.5,1177.2L919.5,1176.6L921.5,1175.9L923.5,1175.1L925.5,1174.4L927.5,1173.7L929.5,1172.9L931.5,1172.2L933.5,1171.4L935.5,1170.7L937.5,1170.0L939.5,1169.3L941.5,1168.5L943.5,1167.8L945.5,1167.1L947.5,1166.5L949.5,1165.8L951.5,1165.1L953.5,1164.5L955.5,1163.8L957.5,1163.2L959.5,1162.5L961.5,1161.9L963.5,1161.3L965.5,1160.7L967.5,1160.1L969.5,1159.5L971.5,1158.9L973.5,1158.4L975.5,1157.8L977.5,1157.3L979.5,1156.7L981.5,1156.2L983.5,1155.7L985.5,1155.2L987.5,1154.6L989.5,1154.2L991.5,1153.7L993.5,1153.2L995.5,1152.7L997.5,1152.2L999.5,1151.7L1001.5,1151.2L1003.5,1150.7L1005.5,1150.2L1007.5,1149.6L1009.5,1149.0L1011.5,1148.4L1013.5,1147.8L1015.5,1147.2L1017.5,1146.5L1019.5,1145.7L1021.5,1145.0L1023.5,1144.1L1025.5,1143.3L1027.5,1142.4L1029.5,1141.4L1031.5,1140.4L1033.5,1139.3L1035.5,1138.1L1037.5,1136.9L1039.5,1135.6L1041.5,1134.2L1043.5,1132.8L1045.5,1131.3L1047.5,1129.7L1049.5,1128.1L1051.5,1126.5L1053.5,1124.8L1055.5,1123.2L1057.5,1121.5L1059.5,1119.8L1061.5,1118.1L1063.5,1116.5L1065.5,1114.8L1067.5,1113.3L1069.5,1111.7L1071.5,1110.2L1073.5,1108.8L1075.5,1107.5L1077.5,1106.2L1079.5,1105.0L1081.5,1103.9L1083.5,1103.0L1085.5,1102.1L1087.5,1101.4L1089.5,1100.8L1091.5,1100.4L1093.5,1100.1L1095.5,1100.0L1097.5,1100.0L1099.5,1100.2L1101.5,1100.5L1103.5,1100.9L1105.5,1101.4L1107.5,1102.0L1109.5,1102.7L1111.5,1103.5L1113.5,1104.4L1115.5,1105.3L1117.5,1106.2L1119.5,1107.2L1121.5,1108.2L1123.5,1109.2L1125.5,1110.2L1127.5,1111.3L1129.5,1112.2L1131.5,1113.2L1133.5,1114.1L1135.5,1115.0L1137.5,1115.8L1139.5,1116.6L1141.5,1117.2L1143.5,1117.8L1145.5,1118.2L1147.5,1118.8L1149.5,1119.5L1151.5,1120.0L1153.5,1120.5L1155.5,1120.9L1157.5,1121.2L1159.5,1121.5L1161.5,1121.7L1163.5,1121.8L1165.5,1121.9L1167.5,1122.0L1169.5,1121.9L1171.5,1121.9L1173.5,1121.8L1175.5,1121.7L1177.5,1121.5L1179.5,1121.2L1181.5,1121.0L1183.5,1120.7L1185.5,1120.4L1187.5,1120.1L1189.5,1119.7L1191.5,1119.3L1193.5,1118.9L1195.5,1118.5L1197.5,1118.1L1199.5,1117.6L1201.5,1117.2L1203.5,1116.7L1205.5,1116.3L1207.5,1115.9L1209.5,1115.4L1211.5,1115.1L1213.5,1114.7L1215.5,1114.4L1217.5,1114.1L1219.5,1113.9L1221.5,1113.7L1223.5,1113.6L1225.5,1113.5L1227.5,1113.5L1229.5,1113.6L1231.5,1113.8L1233.5,1114.1L1235.5,1114.4L1237.5,1114.9L1239.5,1115.4L1241.5,1116.1L1243.5,1116.9L1245.5,1117.8L1247.5,1118.9L1249.5,1120.1L1251.5,1121.4L1253.5,1122.9L1255.5,1124.5L1257.5,1126.2L1259.5,1128.1L1261.5,1130.1L1263.5,1132.2L1265.5,1134.3L1267.5,1136.6L1269.5,1139.0L1271.5,1141.4L1273.5,1143.9L1275.5,1146.4L1277.5,1149.0L1279.5,1151.7L1281.5,1154.4L1283.5,1157.1L1285.5,1159.8L1287.5,1162.6L1289.5,1165.3L1291.5,1168.0L1293.5,1170.8L1295.5,1173.5L1297.5,1176.2L1299.5,1178.8L1301.5,1181.4L1303.5,1184.0L1305.5,1186.5L1307.5,1188.9L1309.5,1191.3L1311.5,1193.6L1313.5,1195.8L1315.5,1198.0L1317.5,1200.1L1319.5,1202.1L1321.5,1204.0L1323.5,1205.8L1325.5,1207.6L1327.5,1209.2L1329.5,1210.8L1331.5,1212.3L1333.5,1213.6L1335.5,1214.9L1337.5,1216.0L1339.5,1217.1L1341.5,1218.0L1343.5,1218.9L1345.5,1219.6L1347.5,1220.1L1349.5,1220.6L1351.5,1220.9L1353.5,1221.1L1355.5,1221.2L1357.5,1221.2L1359.5,1221.0L1361.5,1220.7L1363.5,1220.2L1365.5,1219.7L1367.5,1219.1L1369.5,1218.4L1371.5,1217.7L1373.5,1216.8L1375.5,1216.0L1377.5,1215.1L1379.5,1214.1L1381.5,1213.2L1383.5,1212.2L1385.5,1211.3L1387.5,1210.3L1389.5,1209.4L1391.5,1208.4L1393.5,1207.4L1395.5,1206.5L1397.5,1205.4L1399.5,1204.4L1401.5,1203.3L1403.5,1202.2L1405.5,1201.1L1407.5,1199.9L1409.5,1199.0L1409.5,1358.3L199.5,1358.3Z" fill="#36c8b6" stroke="#000" stroke-width="7" stroke-linejoin="round"/><path class="aa" d="M199.5,1132.4L201.5,1132.4L203.5,1132.3L205.5,1132.3L207.5,1132.3L209.5,1132.3L211.5,1132.2L213.5,1132.2L215.5,1132.2L217.5,1132.3L219.5,1132.3L221.5,1132.3L223.5,1132.4L225.5,1132.4L227.5,1132.5L229.5,1132.6L231.5,1132.8L233.5,1132.9L235.5,1133.1L237.5,1133.3L239.5,1133.5L241.5,1133.8L243.5,1134.0L245.5,1134.3L247.5,1134.7L249.5,1135.1L251.5,1135.5L253.5,1135.9L255.5,1136.4L257.5,1136.9L259.5,1137.5L261.5,1138.1L263.5,1138.7L265.5,1139.4L267.5,1140.2L269.5,1140.9L271.5,1141.8L273.5,1142.7L275.5,1143.6L277.5,1144.6L279.5,1145.6L281.5,1146.7L283.5,1147.8L285.5,1149.0L287.5,1150.2L289.5,1151.6L291.5,1152.9L293.5,1154.4L295.5,1155.8L297.5,1157.4L299.5,1159.0L301.5,1160.7L303.5,1162.5L305.5,1164.3L307.5,1166.1L309.5,1168.1L311.5,1170.1L313.5,1172.1L315.5,1174.1L317.5,1176.1L319.5,1178.2L321.5,1180.3L323.5,1182.3L325.5,1184.3L327.5,1186.3L329.5,1188.2L331.5,1190.1L333.5,1192.0L335.5,1193.8L337.5,1195.5L339.5,1197.2L341.5,1198.9L343.5,1200.5L345.5,1202.1L347.5,1203.7L349.5,1205.3L351.5,1206.9L353.5,1208.4L355.5,1209.9L357.5,1211.5L359.5,1213.0L361.5,1214.5L363.5,1216.0L365.5,1217.4L367.5,1218.8L369.5,1220.1L371.5,1221.3L373.5,1222.4L375.5,1223.4L377.5,1224.3L379.5,1225.1L381.5,1225.7L383.5,1226.2L385.5,1226.5L387.5,1226.7L389.5,1226.7L391.5,1226.5L393.5,1226.3L395.5,1226.0L397.5,1225.5L399.5,1225.0L401.5,1224.4L403.5,1223.8L405.5,1223.1L407.5,1222.4L409.5,1221.7L411.5,1221.0L413.5,1220.2L415.5,1219.5L417.5,1218.8L419.5,1218.1L421.5,1217.5L423.5,1216.9L425.5,1216.4L427.5,1215.9L429.5,1215.5L431.5,1215.2L433.5,1215.0L435.5,1214.8L437.5,1214.8L439.5,1214.9L441.5,1215.1L443.5,1215.4L445.5,1215.9L447.5,1216.5L449.5,1217.3L451.5,1218.2L453.5,1219.3L455.5,1220.6L457.5,1222.1L459.5,1223.8L461.5,1225.7L463.5,1227.8L465.5,1230.1L467.5,1232.5L469.5,1235.2L471.5,1237.9L473.5,1240.7L475.5,1243.6L477.5,1246.6L479.5,1249.6L481.5,1252.5L483.5,1255.4L485.5,1258.3L487.5,1261.1L489.5,1263.7L491.5,1266.3L493.5,1268.6L495.5,1270.8L497.5,1272.8L499.5,1274.5L501.5,1275.9L503.5,1277.1L505.5,1277.9L507.5,1278.4L509.5,1278.5L511.5,1278.3L513.5,1277.6L515.5,1276.4L517.5,1274.8L519.5,1272.8L521.5,1270.5L523.5,1267.7L525.5,1264.6L527.5,1261.3L529.5,1257.6L531.5,1253.8L533.5,1249.7L535.5,1245.4L537.5,1241.0L539.5,1236.5L541.5,1231.9L543.5,1227.2L545.5,1222.5L547.5,1217.8L549.5,1213.2L551.5,1208.6L553.5,1204.1L555.5,1199.7L557.5,1195.5L559.5,1191.5L561.5,1187.6L563.5,1184.1L565.5,1180.8L567.5,1177.7L569.5,1175.1L571.5,1172.7L573.5,1170.7L575.5,1169.1L577.5,1167.8L579.5,1166.8L581.5,1166.2L583.5,1166.0L585.5,1166.1L587.5,1166.6L589.5,1167.4L591.5,1168.5L593.5,1169.8L595.5,1171.3L597.5,1173.0L599.5,1174.9L601.5,1176.9L603.5,1179.0L605.5,1181.2L607.5,1183.4L609.5,1185.8L611.5,1188.2L613.5,1190.7L615.5,1193.3L617.5,1195.9L619.5,1198.6L621.5,1201.5L623.5,1204.5L625.5,1207.5L627.5,1210.4L629.5,1213.4L631.5,1216.4L633.5,1219.4L635.5,1222.4L637.5,1225.3L639.5,1228.1L641.5,1230.9L643.5,1233.6L645.5,1236.2L647.5,1238.6L649.5,1241.0L651.5,1243.2L653.5,1245.3L655.5,1247.3L657.5,1249.0L659.5,1250.6L661.5,1252.0L663.5,1253.1L665.5,1254.1L667.5,1254.8L669.5,1255.3L671.5,1255.5L673.5,1255.4L675.5,1255.1L677.5,1254.5L679.5,1253.7L681.5,1252.6L683.5,1251.3L685.5,1249.9L687.5,1248.2L689.5,1246.4L691.5,1244.4L693.5,1242.3L695.5,1240.1L697.5,1237.7L699.5,1235.3L701.5,1232.7L703.5,1230.1L705.5,1227.5L707.5,1224.8L709.5,1222.1L711.5,1219.3L713.5,1216.6L715.5,1213.9L717.5,1211.2L719.5,1208.6L721.5,1206.0L723.5,1203.5L725.5,1201.1L727.5,1198.8L729.5,1196.6L731.5,1194.5L733.5,1192.5L735.5,1190.5L737.5,1188.7L739.5,1186.9L741.5,1185.2L743.5,1183.6L745.5,1182.1L747.5,1180.7L749.5,1179.3L751.5,1178.0L753.5,1176.8L755.5,1175.6L757.5,1174.5L759.5,1173.4L761.5,1172.4L763.5,1171.5L765.5,1170.6L767.5,1169.8L769.5,1169.0L771.5,1168.3L773.5,1167.6L775.5,1166.9L777.5,1166.3L779.5,1165.7L781.5,1165.2L783.5,1164.7L785.5,1164.2L787.5,1163.8L789.5,1163.4L791.5,1163.0L793.5,1162.7L795.5,1162.5L797.5,1162.2L799.5,1162.0L801.5,1161.9L803.5,1161.8L805.5,1161.7L807.5,1161.7L809.5,1161.8L811.5,1161.9L813.5,1162.0L815.5,1162.2L817.5,1162.4L819.5,1162.7L821.5,1163.0L823.5,1163.3L825.5,1163.8L827.5,1164.2L829.5,1164.8L831.5,1165.3L833.5,1166.0L835.5,1166.6L837.5,1167.3L839.5,1168.1L841.5,1168.9L843.5,1169.7L845.5,1170.5L847.5,1171.3L849.5,1172.1L851.5,1173.0L853.5,1173.8L855.5,1174.7L857.5,1175.5L859.5,1176.3L861.5,1177.1L863.5,1177.8L865.5,1178.6L867.5,1179.3L869.5,1179.9L871.5,1180.5L873.5,1181.1L875.5,1181.6L877.5,1182.0L879.5,1182.4L881.5,1182.7L883.5,1182.9L885.5,1183.0L887.5,1183.1L889.5,1183.1L891.5,1183.0L893.5,1182.8L895.5,1182.6L897.5,1182.4L899.5,1182.1L901.5,1181.7L903.5,1181.3L905.5,1180.8L907.5,1180.3L909.5,1179.7L911.5,1179.2L913.5,1178.6L915.5,1177.9L917.5,1177.2L919.5,1176.6L921.5,1175.9L923.5,1175.1L925.5,1174.4L927.5,1173.7L929.5,1172.9L931.5,1172.2L933.5,1171.4L935.5,1170.7L937.5,1170.0L939.5,1169.3L941.5,1168.5L943.5,1167.8L945.5,1167.1L947.5,1166.5L949.5,1165.8L951.5,1165.1L953.5,1164.5L955.5,1163.8L957.5,1163.2L959.5,1162.5L961.5,1161.9L963.5,1161.3L965.5,1160.7L967.5,1160.1L969.5,1159.5L971.5,1158.9L973.5,1158.4L975.5,1157.8L977.5,1157.3L979.5,1156.7L981.5,1156.2L983.5,1155.7L985.5,1155.2L987.5,1154.6L989.5,1154.2L991.5,1153.7L993.5,1153.2L995.5,1152.7L997.5,1152.2L999.5,1151.7L1001.5,1151.2L1003.5,1150.7L1005.5,1150.2L1007.5,1149.6L1009.5,1149.0L1011.5,1148.4L1013.5,1147.8L1015.5,1147.2L1017.5,1146.5L1019.5,1145.7L1021.5,1145.0L1023.5,1144.1L1025.5,1143.3L1027.5,1142.4L1029.5,1141.4L1031.5,1140.4L1033.5,1139.3L1035.5,1138.1L1037.5,1136.9L1039.5,1135.6L1041.5,1134.2L1043.5,1132.8L1045.5,1131.3L1047.5,1129.7L1049.5,1128.1L1051.5,1126.5L1053.5,1124.8L1055.5,1123.2L1057.5,1121.5L1059.5,1119.8L1061.5,1118.1L1063.5,1116.5L1065.5,1114.8L1067.5,1113.3L1069.5,1111.7L1071.5,1110.2L1073.5,1108.8L1075.5,1107.5L1077.5,1106.2L1079.5,1105.0L1081.5,1103.9L1083.5,1103.0L1085.5,1102.1L1087.5,1101.4L1089.5,1100.8L1091.5,1100.4L1093.5,1100.1L1095.5,1100.0L1097.5,1100.0L1099.5,1100.2L1101.5,1100.5L1103.5,1100.9L1105.5,1101.4L1107.5,1102.0L1109.5,1102.7L1111.5,1103.5L1113.5,1104.4L1115.5,1105.3L1117.5,1106.2L1119.5,1107.2L1121.5,1108.2L1123.5,1109.2L1125.5,1110.2L1127.5,1111.3L1129.5,1112.2L1131.5,1113.2L1133.5,1114.1L1135.5,1115.0L1137.5,1115.8L1139.5,1116.6L1141.5,1117.2L1143.5,1117.8L1145.5,1118.2L1147.5,1118.8L1149.5,1119.5L1151.5,1120.0L1153.5,1120.5L1155.5,1120.9L1157.5,1121.2L1159.5,1121.5L1161.5,1121.7L1163.5,1121.8L1165.5,1121.9L1167.5,1122.0L1169.5,1121.9L1171.5,1121.9L1173.5,1121.8L1175.5,1121.7L1177.5,1121.5L1179.5,1121.2L1181.5,1121.0L1183.5,1120.7L1185.5,1120.4L1187.5,1120.1L1189.5,1119.7L1191.5,1119.3L1193.5,1118.9L1195.5,1118.5L1197.5,1118.1L1199.5,1117.6L1201.5,1117.2L1203.5,1116.7L1205.5,1116.3L1207.5,1115.9L1209.5,1115.4L1211.5,1115.1L1213.5,1114.7L1215.5,1114.4L1217.5,1114.1L1219.5,1113.9L1221.5,1113.7L1223.5,1113.6L1225.5,1113.5L1227.5,1113.5L1229.5,1113.6L1231.5,1113.8L1233.5,1114.1L1235.5,1114.4L1237.5,1114.9L1239.5,1115.4L1241.5,1116.1L1243.5,1116.9L1245.5,1117.8L1247.5,1118.9L1249.5,1120.1L1251.5,1121.4L1253.5,1122.9L1255.5,1124.5L1257.5,1126.2L1259.5,1128.1L1261.5,1130.1L1263.5,1132.2L1265.5,1134.3L1267.5,1136.6L1269.5,1139.0L1271.5,1141.4L1273.5,1143.9L1275.5,1146.4L1277.5,1149.0L1279.5,1151.7L1281.5,1154.4L1283.5,1157.1L1285.5,1159.8L1287.5,1162.6L1289.5,1165.3L1291.5,1168.0L1293.5,1170.8L1295.5,1173.5L1297.5,1176.2L1299.5,1178.8L1301.5,1181.4L1303.5,1184.0L1305.5,1186.5L1307.5,1188.9L1309.5,1191.3L1311.5,1193.6L1313.5,1195.8L1315.5,1198.0L1317.5,1200.1L1319.5,1202.1L1321.5,1204.0L1323.5,1205.8L1325.5,1207.6L1327.5,1209.2L1329.5,1210.8L1331.5,1212.3L1333.5,1213.6L1335.5,1214.9L1337.5,1216.0L1339.5,1217.1L1341.5,1218.0L1343.5,1218.9L1345.5,1219.6L1347.5,1220.1L1349.5,1220.6L1351.5,1220.9L1353.5,1221.1L1355.5,1221.2L1357.5,1221.2L1359.5,1221.0L1361.5,1220.7L1363.5,1220.2L1365.5,1219.7L1367.5,1219.1L1369.5,1218.4L1371.5,1217.7L1373.5,1216.8L1375.5,1216.0L1377.5,1215.1L1379.5,1214.1L1381.5,1213.2L1383.5,1212.2L1385.5,1211.3L1387.5,1210.3L1389.5,1209.4L1391.5,1208.4L1393.5,1207.4L1395.5,1206.5L1397.5,1205.4L1399.5,1204.4L1401.5,1203.3L1403.5,1202.2L1405.5,1201.1L1407.5,1199.9L1409.5,1199.0" fill="none" stroke="#000" stroke-width="5" stroke-linejoin="round"/>
<rect x="199.5" y="977.5" width="1210.0" height="380.8" fill="none" stroke="#000" stroke-width="7" stroke-linejoin="round"/>
<line x1="251.5" y1="1358.3" x2="251.5" y2="1351.3999999999999" stroke="#000" stroke-width="7" stroke-linecap="round"/>
<line x1="357.5" y1="1358.3" x2="357.5" y2="1342.6" stroke="#000" stroke-width="7" stroke-linecap="round"/>
<line x1="462.5" y1="1358.3" x2="462.5" y2="1351.3999999999999" stroke="#000" stroke-width="7" stroke-linecap="round"/>
<line x1="567.5" y1="1358.3" x2="567.5" y2="1342.6" stroke="#000" stroke-width="7" stroke-linecap="round"/>
<line x1="672.5" y1="1358.3" x2="672.5" y2="1351.3999999999999" stroke="#000" stroke-width="7" stroke-linecap="round"/>
<line x1="777.5" y1="1358.3" x2="777.5" y2="1342.6" stroke="#000" stroke-width="7" stroke-linecap="round"/>
<line x1="883.5" y1="1358.3" x2="883.5" y2="1351.3999999999999" stroke="#000" stroke-width="7" stroke-linecap="round"/>
<line x1="988.5" y1="1358.3" x2="988.5" y2="1342.6" stroke="#000" stroke-width="7" stroke-linecap="round"/>
<line x1="1093.5" y1="1358.3" x2="1093.5" y2="1351.3999999999999" stroke="#000" stroke-width="7" stroke-linecap="round"/>
<line x1="1198.5" y1="1358.3" x2="1198.5" y2="1342.6" stroke="#000" stroke-width="7" stroke-linecap="round"/>
<line x1="1303.5" y1="1358.3" x2="1303.5" y2="1351.3999999999999" stroke="#000" stroke-width="7" stroke-linecap="round"/>
<line x1="199.5" y1="1167.9" x2="206.8" y2="1167.9" stroke="#000" stroke-width="6.4" stroke-linecap="round"/>
<rect x="186" y="1554" width="124" height="61" fill="#36c8b6"/>
<rect x="186" y="1643" width="124" height="61" fill="#fa6400"/>
<rect x="186" y="1732" width="124" height="62" fill="#00d28b"/>
<rect x="186" y="1822" width="124" height="61" fill="#f67ca5"/>
<text x="619.05" y="59.80" font-size="76.00" textLength="378.35" lengthAdjust="spacingAndGlyphs">Wind power</text>
<text x="709.50" y="1522.60" font-size="75.00" textLength="269.64" lengthAdjust="spacingAndGlyphs">Time (h)</text>
<text transform="translate(63.20,920.40) rotate(-90)" font-size="76.00" textLength="411.03" lengthAdjust="spacingAndGlyphs">Power (MW)</text>
<text x="89.60" y="109.83" font-size="73.02" textLength="103.99" lengthAdjust="spacingAndGlyphs">350</text>
<text x="88.80" y="300.32" font-size="73.77" textLength="99.77" lengthAdjust="spacingAndGlyphs">175</text>
<text x="148.40" y="490.82" font-size="73.02" textLength="34.75" lengthAdjust="spacingAndGlyphs">0</text>
<text x="89.60" y="553.82" font-size="73.02" textLength="103.99" lengthAdjust="spacingAndGlyphs">350</text>
<text x="88.80" y="744.57" font-size="73.77" textLength="99.77" lengthAdjust="spacingAndGlyphs">175</text>
<text x="148.40" y="935.32" font-size="73.02" textLength="34.75" lengthAdjust="spacingAndGlyphs">0</text>
<text x="89.60" y="1000.82" font-size="73.02" textLength="103.99" lengthAdjust="spacingAndGlyphs">350</text>
<text x="90.80" y="1191.18" font-size="73.40" textLength="99.80" lengthAdjust="spacingAndGlyphs">175</text>
<text x="148.40" y="1381.65" font-size="73.02" textLength="34.75" lengthAdjust="spacingAndGlyphs">0</text>
<text x="286.75" y="1424.98" font-size="73.07" textLength="124.18" lengthAdjust="spacingAndGlyphs">4:00</text>
<text x="497.85" y="1424.98" font-size="73.07" textLength="122.92" lengthAdjust="spacingAndGlyphs">8:00</text>
<text x="687.55" y="1424.98" font-size="73.07" textLength="156.54" lengthAdjust="spacingAndGlyphs">12:00</text>
<text x="899.35" y="1424.98" font-size="73.07" textLength="156.08" lengthAdjust="spacingAndGlyphs">16:00</text>
<text x="1106.50" y="1424.98" font-size="73.07" textLength="158.06" lengthAdjust="spacingAndGlyphs">20:00</text>
<text x="1316.15" y="1424.98" font-size="73.07" textLength="159.25" lengthAdjust="spacingAndGlyphs">24:00</text>
<text x="1436.20" y="302.42" font-size="73.58" font-weight="bold" textLength="71.40" lengthAdjust="spacingAndGlyphs">S1</text>
<text x="1436.20" y="751.48" font-size="73.73" font-weight="bold" textLength="72.79" lengthAdjust="spacingAndGlyphs">S2</text>
<text x="1436.20" y="1202.37" font-size="73.36" font-weight="bold" textLength="72.50" lengthAdjust="spacingAndGlyphs">S3</text>
<text x="343.65" y="1608.30" font-size="72.00" textLength="789.70" lengthAdjust="spacingAndGlyphs">Wind power grid connection</text>
<text x="352.75" y="1697.40" font-size="72.00" textLength="1027.41" lengthAdjust="spacingAndGlyphs">CCS energy provided by wind power</text>
<text x="354.70" y="1787.00" font-size="72.00" textLength="1021.96" lengthAdjust="spacingAndGlyphs">P2G energy provided by wind power</text>
<text x="351.75" y="1876.20" font-size="72.00" textLength="659.25" lengthAdjust="spacingAndGlyphs">Abandoned wind power</text>
</svg>
</body></html>
